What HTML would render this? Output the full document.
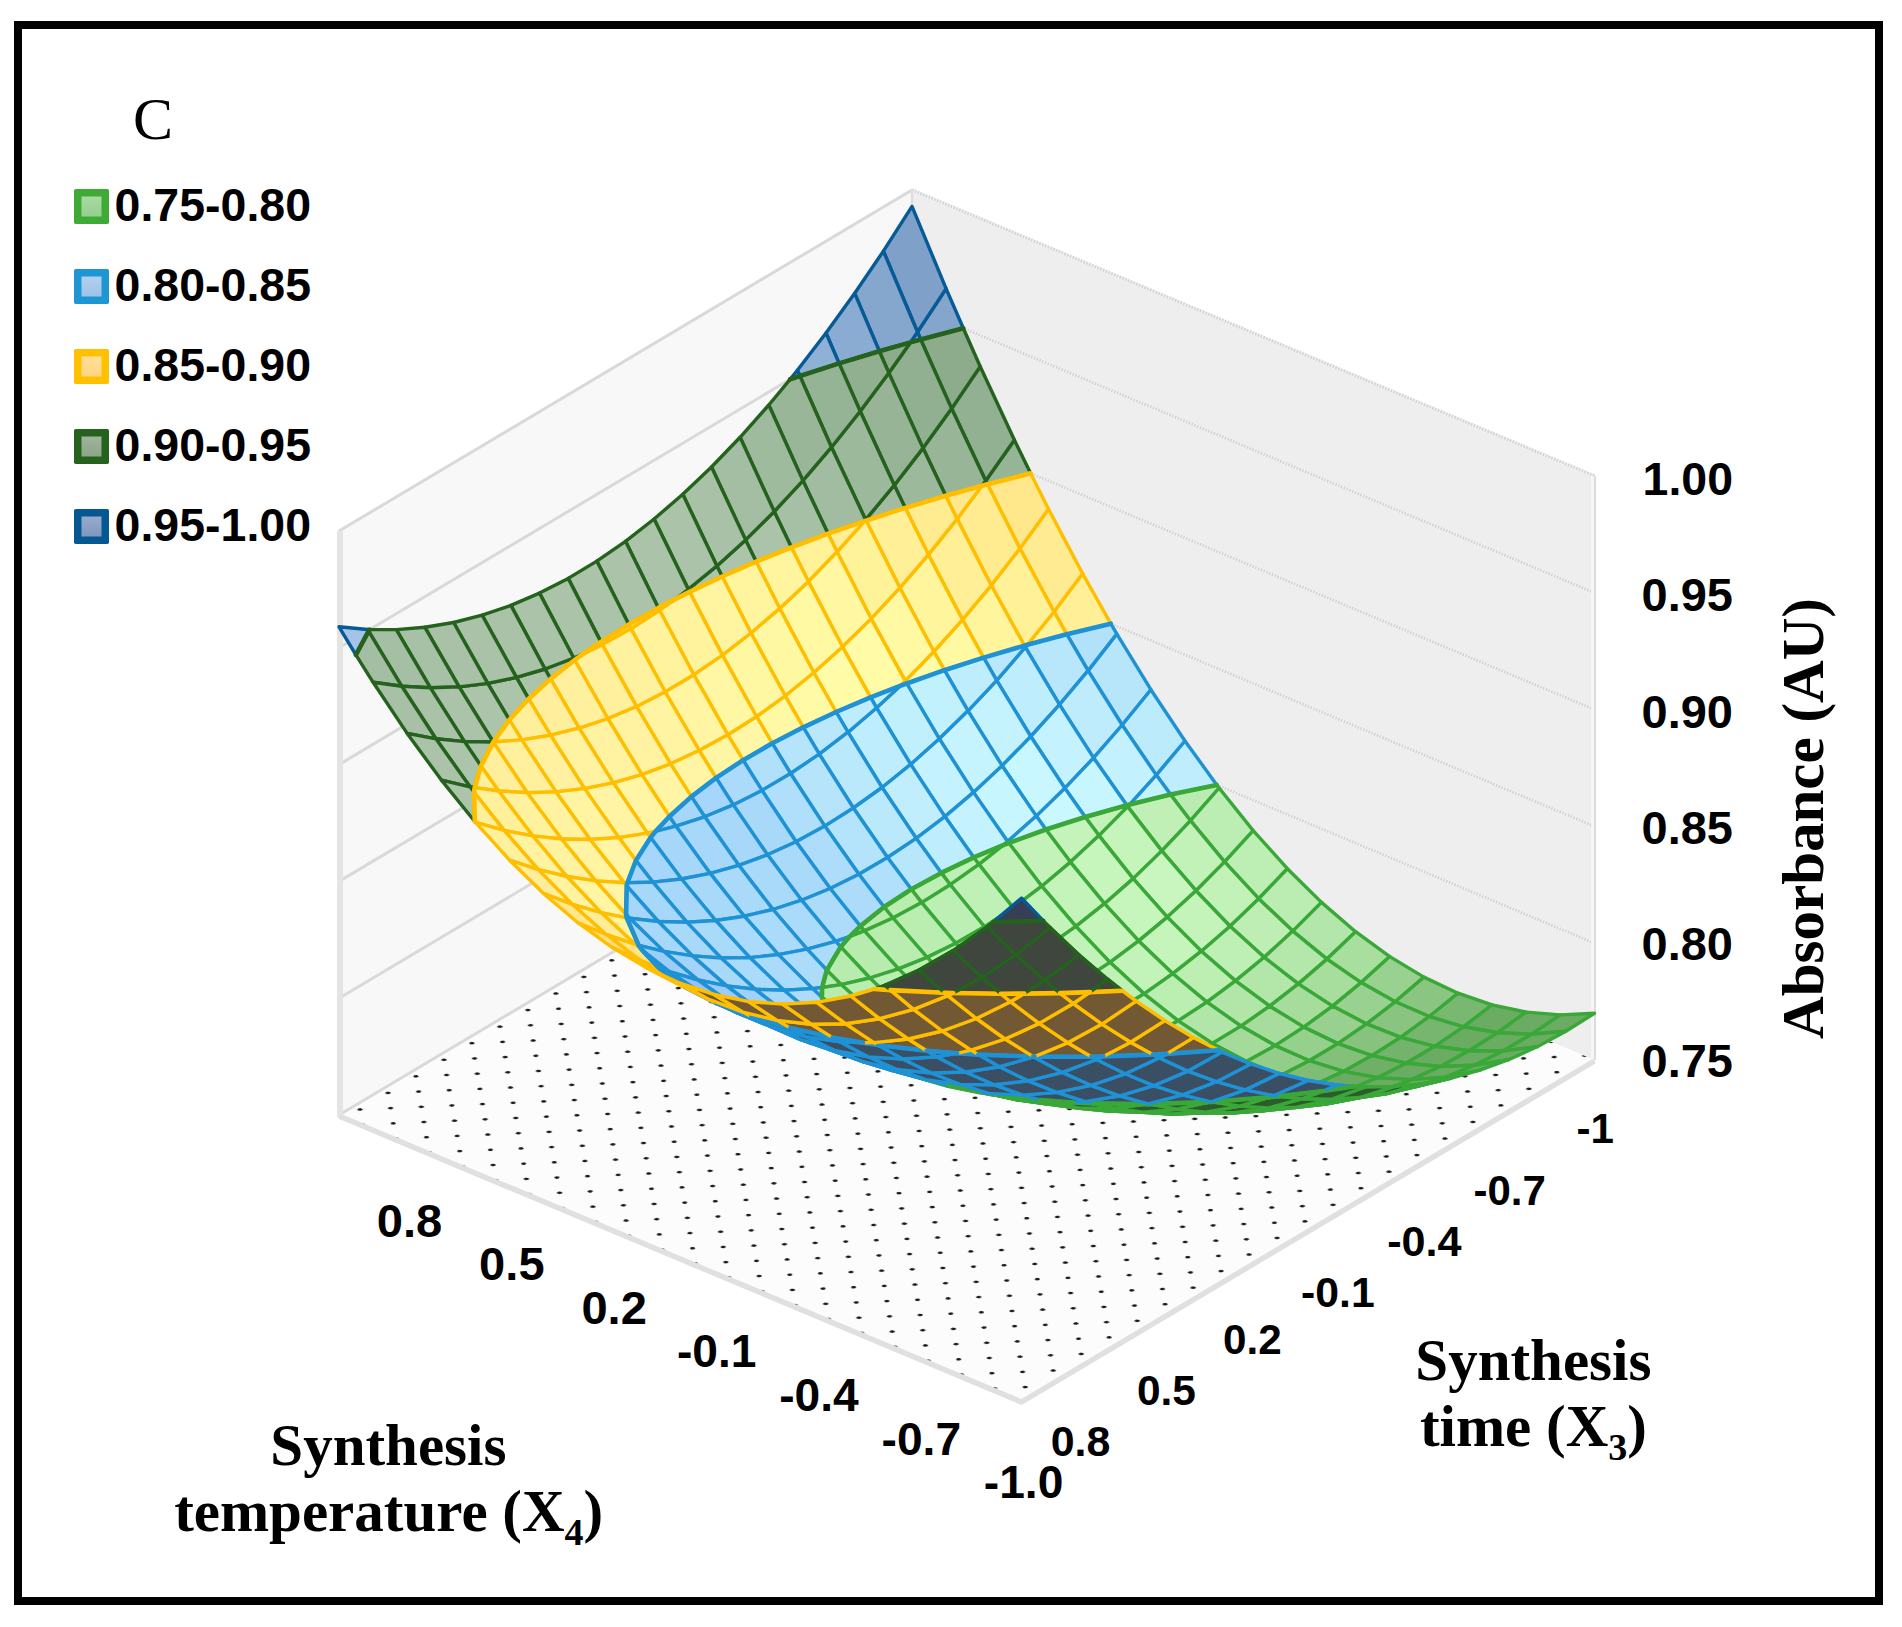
<!DOCTYPE html>
<html lang="en"><head><meta charset="utf-8"><title>Surface plot C</title>
<style>html,body{margin:0;padding:0;background:#fff}body{width:1902px;height:1627px;overflow:hidden}svg{display:block}#surf polygon{stroke-width:3.4;stroke-linejoin:round}#surf .c{stroke-width:4.6;stroke-linecap:round;fill:none}text{fill:#000}</style></head><body>
<svg width="1902" height="1627" viewBox="0 0 1902 1627">
<defs><pattern id="dots" width="1" height="1" patternUnits="userSpaceOnUse" patternTransform="matrix(33.260 13.880 27.980 -16.570 344.69 1110.17)"><circle cx="0.25" cy="0.25" r="0.058" fill="#1a1a1a"/><circle cx="0.75" cy="0.75" r="0.058" fill="#1a1a1a"/></pattern><linearGradient id="lg0" x1="0" y1="0" x2="0" y2="1"><stop offset="0" stop-color="#a8daa2"/><stop offset="1" stop-color="#96ce90"/></linearGradient><linearGradient id="lg1" x1="0" y1="0" x2="0" y2="1"><stop offset="0" stop-color="#b0d0f0"/><stop offset="1" stop-color="#9ec2e8"/></linearGradient><linearGradient id="lg2" x1="0" y1="0" x2="0" y2="1"><stop offset="0" stop-color="#ffe098"/><stop offset="1" stop-color="#ffd480"/></linearGradient><linearGradient id="lg3" x1="0" y1="0" x2="0" y2="1"><stop offset="0" stop-color="#a0b49c"/><stop offset="1" stop-color="#8ca488"/></linearGradient><linearGradient id="lg4" x1="0" y1="0" x2="0" y2="1"><stop offset="0" stop-color="#96aacc"/><stop offset="1" stop-color="#8098be"/></linearGradient></defs>
<rect x="0" y="0" width="1902" height="1627" fill="#fff"/>
<rect x="18" y="25" width="1861" height="1576" fill="none" stroke="#000" stroke-width="8"/>
<g id="walls"><polygon points="912.0,774.0 339.0,1115.0 339.0,531.0 912.0,190.0" fill="#f8f8f8"/>
<polygon points="912.0,774.0 1594.5,1060.0 1594.5,476.0 912.0,190.0" fill="#eeeeee"/>
<polygon points="912.0,774.0 339.0,1115.0 1021.5,1401.0 1594.5,1060.0" fill="#fcfcfc"/>
<polygon points="912.0,774.0 339.0,1115.0 1021.5,1401.0 1594.5,1060.0" fill="url(#dots)"/>
<line x1="339.0" y1="1115.0" x2="912.0" y2="774.0" stroke="#d9d9d9" stroke-width="3"/>
<line x1="339.0" y1="998.2" x2="912.0" y2="657.2" stroke="#d9d9d9" stroke-width="3"/>
<line x1="912.0" y1="657.2" x2="1594.5" y2="943.2" stroke="#f3f3f3" stroke-width="3.6"/>
<line x1="912.0" y1="657.2" x2="1594.5" y2="943.2" stroke="#d2d2d2" stroke-width="3" stroke-dasharray="1.6 1.4"/>
<line x1="339.0" y1="881.4" x2="912.0" y2="540.4" stroke="#d9d9d9" stroke-width="3"/>
<line x1="912.0" y1="540.4" x2="1594.5" y2="826.4" stroke="#f3f3f3" stroke-width="3.6"/>
<line x1="912.0" y1="540.4" x2="1594.5" y2="826.4" stroke="#d2d2d2" stroke-width="3" stroke-dasharray="1.6 1.4"/>
<line x1="339.0" y1="764.6" x2="912.0" y2="423.6" stroke="#d9d9d9" stroke-width="3"/>
<line x1="912.0" y1="423.6" x2="1594.5" y2="709.6" stroke="#f3f3f3" stroke-width="3.6"/>
<line x1="912.0" y1="423.6" x2="1594.5" y2="709.6" stroke="#d2d2d2" stroke-width="3" stroke-dasharray="1.6 1.4"/>
<line x1="339.0" y1="647.8" x2="912.0" y2="306.8" stroke="#d9d9d9" stroke-width="3"/>
<line x1="912.0" y1="306.8" x2="1594.5" y2="592.8" stroke="#f3f3f3" stroke-width="3.6"/>
<line x1="912.0" y1="306.8" x2="1594.5" y2="592.8" stroke="#d2d2d2" stroke-width="3" stroke-dasharray="1.6 1.4"/>
<line x1="339.0" y1="531.0" x2="912.0" y2="190.0" stroke="#d9d9d9" stroke-width="3"/>
<line x1="912.0" y1="190.0" x2="1594.5" y2="476.0" stroke="#f3f3f3" stroke-width="3.6"/>
<line x1="912.0" y1="190.0" x2="1594.5" y2="476.0" stroke="#d2d2d2" stroke-width="3" stroke-dasharray="1.6 1.4"/>
<line x1="340.0" y1="1117.0" x2="340.0" y2="531.0" stroke="#e4e4e4" stroke-width="6"/>
<line x1="912.0" y1="774.0" x2="912.0" y2="190.0" stroke="#dedede" stroke-width="2.5"/>
<line x1="1592.5" y1="1060.0" x2="1592.5" y2="476.0" stroke="#f6f6f6" stroke-width="3"/>
<line x1="1595.0" y1="1060.0" x2="1595.0" y2="476.0" stroke="#dcdcdc" stroke-width="2"/>
<polyline points="339.0,1115.0 1021.5,1401.0 1594.5,1060.0" fill="none" stroke="#e0e0e0" stroke-width="5.5" stroke-linejoin="miter" transform="translate(0,1)"/></g>
<g id="surf"><polygon points="1116.8,633.9 1088.1,670.6 1122.2,725.0 1150.9,689.7" fill="#b7e6fb" stroke="#1e92d4"/>
<polygon points="1082.6,573.6 1054.0,611.7 1066.8,634.3 1110.8,623.7" fill="#ffef96" stroke="#ffbe00"/>
<polygon points="1066.8,634.3 1088.1,670.6 1116.8,633.9 1110.8,623.7" fill="#b2e1fa" stroke="#1e92d4"/>
<polygon points="1150.9,689.7 1122.2,725.0 1156.3,775.1 1185.0,741.0" fill="#bcebfc" stroke="#1e92d4"/>
<polygon points="1048.5,509.0 1019.9,548.4 1054.0,611.7 1082.6,573.6" fill="#ffeb91" stroke="#ffbe00"/>
<polygon points="1185.0,741.0 1156.3,775.1 1170.6,794.6 1216.8,784.9" fill="#bfedfd" stroke="#1e92d4"/>
<polygon points="1170.6,794.6 1190.5,820.7 1219.1,788.0 1216.8,784.9" fill="#baebb1" stroke="#3aa838"/>
<polygon points="1014.4,440.0 985.7,480.7 987.5,484.3 1030.6,473.3" fill="#96b496" stroke="#24621e"/>
<polygon points="987.5,484.3 1019.9,548.4 1048.5,509.0 1030.6,473.3" fill="#ffe78b" stroke="#ffbe00"/>
<polygon points="1219.1,788.0 1190.5,820.7 1224.6,861.9 1253.2,830.6" fill="#bcedb3" stroke="#3aa838"/>
<polygon points="980.2,366.5 951.6,408.6 985.7,480.7 1014.4,440.0" fill="#92b192" stroke="#24621e"/>
<polygon points="1054.0,611.7 1027.3,644.8 1066.8,634.3" fill="#fff39b" stroke="#ffbe00"/>
<polygon points="1027.3,644.8 1025.3,647.2 1059.5,704.7 1088.1,670.6 1066.8,634.3" fill="#b8e6fb" stroke="#1e92d4"/>
<polygon points="1088.1,670.6 1059.5,704.7 1093.6,757.9 1122.2,725.0" fill="#beecfd" stroke="#1e92d4"/>
<polygon points="1019.9,548.4 991.2,585.3 1024.4,645.6 1027.3,644.8 1054.0,611.7" fill="#fff198" stroke="#ffbe00"/>
<polygon points="1024.4,645.6 1025.3,647.2 1027.3,644.8" fill="#b4e3fb" stroke="#1e92d4"/>
<polygon points="1122.2,725.0 1093.6,757.9 1126.8,805.3 1129.6,804.6 1156.3,775.1" fill="#c3f1fe" stroke="#1e92d4"/>
<polygon points="1126.8,805.3 1127.7,806.6 1129.6,804.6" fill="#beeeb4" stroke="#3aa838"/>
<polygon points="985.7,480.7 982.0,485.7 987.5,484.3" fill="#9bb89b" stroke="#24621e"/>
<polygon points="982.0,485.7 957.1,518.9 991.2,585.3 1019.9,548.4 987.5,484.3" fill="#ffeb90" stroke="#ffbe00"/>
<polygon points="1253.2,830.6 1224.6,861.9 1258.7,898.7 1287.4,868.7" fill="#bdeeb4" stroke="#3aa838"/>
<polygon points="946.1,288.6 917.5,332.0 920.7,339.5 963.3,328.3" fill="#84a6cd" stroke="#065a96"/>
<polygon points="920.7,339.5 951.6,408.6 980.2,366.5 963.3,328.3" fill="#8cac8c" stroke="#24621e"/>
<polygon points="1156.3,775.1 1129.6,804.6 1170.6,794.6" fill="#c4f2fe" stroke="#1e92d4"/>
<polygon points="1129.6,804.6 1127.7,806.6 1161.8,850.9 1190.5,820.7 1170.6,794.6" fill="#c0f0b6" stroke="#3aa838"/>
<polygon points="951.6,408.6 923.0,448.1 945.7,495.8 982.0,485.7 985.7,480.7" fill="#98b597" stroke="#24621e"/>
<polygon points="945.7,495.8 957.1,518.9 982.0,485.7" fill="#ffe78b" stroke="#ffbe00"/>
<polygon points="1190.5,820.7 1161.8,850.9 1196.0,890.7 1224.6,861.9" fill="#c3f2b9" stroke="#3aa838"/>
<polygon points="1287.4,868.7 1258.7,898.7 1292.8,931.1 1321.5,902.4" fill="#bbecb2" stroke="#3aa838"/>
<polygon points="912.0,206.4 883.4,251.1 917.5,332.0 946.1,288.6" fill="#7fa1c9" stroke="#065a96"/>
<polygon points="1025.3,647.2 996.7,680.3 1030.8,736.5 1059.5,704.7" fill="#beedfd" stroke="#1e92d4"/>
<polygon points="991.2,585.3 962.5,619.6 983.6,657.6 1024.4,645.6" fill="#fff59d" stroke="#ffbe00"/>
<polygon points="983.6,657.6 996.7,680.3 1025.3,647.2 1024.4,645.6" fill="#b9e7fc" stroke="#1e92d4"/>
<polygon points="1059.5,704.7 1030.8,736.5 1064.9,788.2 1093.6,757.9" fill="#c4f2fe" stroke="#1e92d4"/>
<polygon points="917.5,332.0 910.4,342.4 920.7,339.5" fill="#8aabd2" stroke="#065a96"/>
<polygon points="910.4,342.4 888.8,372.9 923.0,448.1 951.6,408.6 920.7,339.5" fill="#90b091" stroke="#24621e"/>
<polygon points="957.1,518.9 928.4,554.6 962.5,619.6 991.2,585.3" fill="#fff097" stroke="#ffbe00"/>
<polygon points="1093.6,757.9 1064.9,788.2 1085.2,817.0 1126.8,805.3" fill="#c8f6ff" stroke="#1e92d4"/>
<polygon points="1085.2,817.0 1099.0,835.6 1127.7,806.6 1126.8,805.3" fill="#c3f2b9" stroke="#3aa838"/>
<polygon points="1224.6,861.9 1196.0,890.7 1230.1,926.2 1258.7,898.7" fill="#c3f2b9" stroke="#3aa838"/>
<polygon points="923.0,448.1 894.3,485.2 905.3,507.9 945.7,495.8" fill="#9cb99c" stroke="#24621e"/>
<polygon points="905.3,507.9 928.4,554.6 957.1,518.9 945.7,495.8" fill="#ffeb90" stroke="#ffbe00"/>
<polygon points="1127.7,806.6 1099.0,835.6 1133.2,878.6 1161.8,850.9" fill="#c6f5bc" stroke="#3aa838"/>
<polygon points="883.4,251.1 854.7,293.3 879.3,351.2 910.4,342.4 917.5,332.0" fill="#85a7ce" stroke="#065a96"/>
<polygon points="879.3,351.2 888.8,372.9 910.4,342.4" fill="#8cac8c" stroke="#24621e"/>
<polygon points="1321.5,902.4 1292.8,931.1 1327.0,959.1 1355.6,931.7" fill="#b3e6aa" stroke="#3aa838"/>
<polygon points="888.8,372.9 860.2,411.3 894.3,485.2 923.0,448.1" fill="#97b497" stroke="#24621e"/>
<polygon points="1161.8,850.9 1133.2,878.6 1167.3,917.1 1196.0,890.7" fill="#c8f6be" stroke="#3aa838"/>
<polygon points="996.7,680.3 968.0,710.8 1002.1,765.7 1030.8,736.5" fill="#c4f3fe" stroke="#1e92d4"/>
<polygon points="962.5,619.6 933.9,651.5 944.4,670.2 983.6,657.6" fill="#fff9a3" stroke="#ffbe00"/>
<polygon points="944.4,670.2 968.0,710.8 996.7,680.3 983.6,657.6" fill="#beedfd" stroke="#1e92d4"/>
<polygon points="1258.7,898.7 1230.1,926.2 1264.2,957.3 1292.8,931.1" fill="#beeeb4" stroke="#3aa838"/>
<polygon points="1030.8,736.5 1002.1,765.7 1036.3,816.1 1064.9,788.2" fill="#c9f7ff" stroke="#1e92d4"/>
<polygon points="928.4,554.6 899.8,587.8 933.9,651.5 962.5,619.6" fill="#fff59d" stroke="#ffbe00"/>
<polygon points="1064.9,788.2 1036.3,816.1 1045.9,829.5 1085.2,817.0" fill="#caf8ff" stroke="#1e92d4"/>
<polygon points="1045.9,829.5 1070.4,862.1 1099.0,835.6 1085.2,817.0" fill="#c5f4bb" stroke="#3aa838"/>
<polygon points="894.3,485.2 865.6,519.7 866.1,520.6 905.3,507.9" fill="#a1bca0" stroke="#24621e"/>
<polygon points="866.1,520.6 899.8,587.8 928.4,554.6 905.3,507.9" fill="#ffef96" stroke="#ffbe00"/>
<polygon points="854.7,293.3 826.0,333.0 839.1,363.4 879.3,351.2" fill="#8bacd2" stroke="#065a96"/>
<polygon points="839.1,363.4 860.2,411.3 888.8,372.9 879.3,351.2" fill="#90b090" stroke="#24621e"/>
<polygon points="1355.6,931.7 1327.0,959.1 1361.1,982.6 1389.8,956.6" fill="#a8de9e" stroke="#3aa838"/>
<polygon points="1196.0,890.7 1167.3,917.1 1201.4,951.2 1230.1,926.2" fill="#c5f4bb" stroke="#3aa838"/>
<polygon points="1099.0,835.6 1070.4,862.1 1104.5,903.7 1133.2,878.6" fill="#c7f6bd" stroke="#3aa838"/>
<polygon points="860.2,411.3 831.5,447.2 865.6,519.7 894.3,485.2" fill="#9cb99c" stroke="#24621e"/>
<polygon points="1292.8,931.1 1264.2,957.3 1298.3,983.9 1327.0,959.1" fill="#b4e7aa" stroke="#3aa838"/>
<polygon points="933.9,651.5 905.2,680.9 906.7,683.5 944.4,670.2" fill="#fffca7" stroke="#ffbe00"/>
<polygon points="906.7,683.5 939.4,738.8 968.0,710.8 944.4,670.2" fill="#c2f1fe" stroke="#1e92d4"/>
<polygon points="968.0,710.8 939.4,738.8 973.5,792.4 1002.1,765.7" fill="#c6f4fe" stroke="#1e92d4"/>
<polygon points="899.8,587.8 871.1,618.6 905.2,680.9 933.9,651.5" fill="#fff9a3" stroke="#ffbe00"/>
<polygon points="1133.2,878.6 1104.5,903.7 1138.7,940.9 1167.3,917.1" fill="#c7f6bd" stroke="#3aa838"/>
<polygon points="1230.1,926.2 1201.4,951.2 1235.5,980.9 1264.2,957.3" fill="#beefb4" stroke="#3aa838"/>
<polygon points="1002.1,765.7 973.5,792.4 1007.6,841.5 1036.3,816.1" fill="#c8f6ff" stroke="#1e92d4"/>
<polygon points="826.0,333.0 797.4,370.3 799.9,376.0 839.1,363.4" fill="#90b1d6" stroke="#065a96"/>
<polygon points="799.9,376.0 831.5,447.2 860.2,411.3 839.1,363.4" fill="#95b395" stroke="#24621e"/>
<polygon points="865.6,519.7 864.5,521.1 866.1,520.6" fill="#a6c0a4" stroke="#24621e"/>
<polygon points="864.5,521.1 837.0,551.8 871.1,618.6 899.8,587.8 866.1,520.6" fill="#fff39a" stroke="#ffbe00"/>
<polygon points="1389.8,956.6 1361.1,982.6 1395.2,1001.8 1423.9,977.1" fill="#99d290" stroke="#3aa838"/>
<polygon points="1036.3,816.1 1007.6,841.5 1008.8,843.0 1045.9,829.5" fill="#c6f4fe" stroke="#1e92d4"/>
<polygon points="1008.8,843.0 1041.8,886.2 1070.4,862.1 1045.9,829.5" fill="#c4f3ba" stroke="#3aa838"/>
<polygon points="1327.0,959.1 1298.3,983.9 1332.5,1006.1 1361.1,982.6" fill="#a7dd9d" stroke="#3aa838"/>
<polygon points="831.5,447.2 802.9,480.6 828.1,533.7 864.5,521.1 865.6,519.7" fill="#a2bca1" stroke="#24621e"/>
<polygon points="828.1,533.7 837.0,551.8 864.5,521.1" fill="#ffee95" stroke="#ffbe00"/>
<polygon points="1167.3,917.1 1138.7,940.9 1172.8,973.7 1201.4,951.2" fill="#c6f5bc" stroke="#3aa838"/>
<polygon points="1070.4,862.1 1041.8,886.2 1075.9,926.4 1104.5,903.7" fill="#c5f4bb" stroke="#3aa838"/>
<polygon points="1264.2,957.3 1235.5,980.9 1269.7,1006.2 1298.3,983.9" fill="#b3e7a9" stroke="#3aa838"/>
<polygon points="797.4,370.3 790.1,379.3 799.9,376.0" fill="#95b5da" stroke="#065a96"/>
<polygon points="790.1,379.3 768.8,405.0 802.9,480.6 831.5,447.2 799.9,376.0" fill="#99b699" stroke="#24621e"/>
<polygon points="905.2,680.9 900.1,685.9 906.7,683.5" fill="#fffca7" stroke="#ffbe00"/>
<polygon points="900.1,685.9 876.6,707.8 910.7,764.4 939.4,738.8 906.7,683.5" fill="#c1f0fd" stroke="#1e92d4"/>
<polygon points="871.1,618.6 842.5,646.8 870.6,697.4 900.1,685.9 905.2,680.9" fill="#fffba6" stroke="#ffbe00"/>
<polygon points="870.6,697.4 876.6,707.8 900.1,685.9" fill="#c0effd" stroke="#1e92d4"/>
<polygon points="939.4,738.8 910.7,764.4 944.9,816.6 973.5,792.4" fill="#c4f2fe" stroke="#1e92d4"/>
<polygon points="1104.5,903.7 1075.9,926.4 1110.0,962.3 1138.7,940.9" fill="#c5f5bb" stroke="#3aa838"/>
<polygon points="837.0,551.8 808.4,581.4 842.5,646.8 871.1,618.6" fill="#fff7a1" stroke="#ffbe00"/>
<polygon points="973.5,792.4 944.9,816.6 973.8,857.4 1003.2,845.2 1007.6,841.5" fill="#c4f2fe" stroke="#1e92d4"/>
<polygon points="973.8,857.4 979.0,864.4 1003.2,845.2" fill="#c2f2b8" stroke="#3aa838"/>
<polygon points="1201.4,951.2 1172.8,973.7 1206.9,1002.1 1235.5,980.9" fill="#bdefb3" stroke="#3aa838"/>
<polygon points="1423.9,977.1 1395.2,1001.8 1429.3,1016.5 1458.0,993.2" fill="#8ac681" stroke="#3aa838"/>
<polygon points="1361.1,982.6 1332.5,1006.1 1366.6,1023.9 1395.2,1001.8" fill="#99d290" stroke="#3aa838"/>
<polygon points="802.9,480.6 774.2,511.5 791.5,547.4 828.1,533.7" fill="#a6c0a5" stroke="#24621e"/>
<polygon points="791.5,547.4 808.4,581.4 837.0,551.8 828.1,533.7" fill="#fff299" stroke="#ffbe00"/>
<polygon points="1007.6,841.5 1003.2,845.2 1008.8,843.0" fill="#c0effd" stroke="#1e92d4"/>
<polygon points="1003.2,845.2 979.0,864.4 1013.1,907.7 1041.8,886.2 1008.8,843.0" fill="#c2f2b8" stroke="#3aa838"/>
<polygon points="1298.3,983.9 1269.7,1006.2 1303.8,1027.1 1332.5,1006.1" fill="#a6dd9d" stroke="#3aa838"/>
<polygon points="1138.7,940.9 1110.0,962.3 1144.1,993.8 1172.8,973.7" fill="#c2f3b9" stroke="#3aa838"/>
<polygon points="768.8,405.0 740.1,437.3 774.2,511.5 802.9,480.6" fill="#9fbb9e" stroke="#24621e"/>
<polygon points="1041.8,886.2 1013.1,907.7 1047.2,946.6 1075.9,926.4" fill="#c2f3b9" stroke="#3aa838"/>
<polygon points="1235.5,980.9 1206.9,1002.1 1241.0,1026.1 1269.7,1006.2" fill="#b2e6a8" stroke="#3aa838"/>
<polygon points="876.6,707.8 848.0,732.2 882.1,787.5 910.7,764.4" fill="#beedfd" stroke="#1e92d4"/>
<polygon points="842.5,646.8 813.8,672.5 836.1,712.0 870.6,697.4" fill="#fffba6" stroke="#ffbe00"/>
<polygon points="836.1,712.0 848.0,732.2 876.6,707.8 870.6,697.4" fill="#bdecfd" stroke="#1e92d4"/>
<polygon points="910.7,764.4 882.1,787.5 916.2,838.3 944.9,816.6" fill="#c0eefd" stroke="#1e92d4"/>
<polygon points="808.4,581.4 779.7,608.4 813.8,672.5 842.5,646.8" fill="#fff9a3" stroke="#ffbe00"/>
<polygon points="944.9,816.6 916.2,838.3 941.3,872.9 973.8,857.4" fill="#beedfd" stroke="#1e92d4"/>
<polygon points="941.3,872.9 950.3,884.7 979.0,864.4 973.8,857.4" fill="#bff0b6" stroke="#3aa838"/>
<polygon points="1075.9,926.4 1047.2,946.6 1081.3,981.2 1110.0,962.3" fill="#c1f2b7" stroke="#3aa838"/>
<polygon points="1172.8,973.7 1144.1,993.8 1178.2,1020.8 1206.9,1002.1" fill="#bbeeb1" stroke="#3aa838"/>
<polygon points="1458.0,993.2 1429.3,1016.5 1463.5,1026.8 1492.1,1004.8" fill="#79b870" stroke="#3aa838"/>
<polygon points="774.2,511.5 745.6,539.9 756.2,561.7 791.5,547.4" fill="#abc3a9" stroke="#24621e"/>
<polygon points="756.2,561.7 779.7,608.4 808.4,581.4 791.5,547.4" fill="#fff59e" stroke="#ffbe00"/>
<polygon points="1395.2,1001.8 1366.6,1023.9 1400.7,1037.3 1429.3,1016.5" fill="#89c580" stroke="#3aa838"/>
<polygon points="1332.5,1006.1 1303.8,1027.1 1337.9,1043.6 1366.6,1023.9" fill="#98d18f" stroke="#3aa838"/>
<polygon points="979.0,864.4 950.3,884.7 984.5,926.8 1013.1,907.7" fill="#bff1b6" stroke="#3aa838"/>
<polygon points="740.1,437.3 711.5,467.0 745.6,539.9 774.2,511.5" fill="#a4bea3" stroke="#24621e"/>
<polygon points="1269.7,1006.2 1241.0,1026.1 1275.1,1045.6 1303.8,1027.1" fill="#a6dc9c" stroke="#3aa838"/>
<polygon points="1110.0,962.3 1081.3,981.2 1115.5,1011.3 1144.1,993.8" fill="#bff1b5" stroke="#3aa838"/>
<polygon points="1013.1,907.7 984.5,926.8 1018.6,964.4 1047.2,946.6" fill="#bff1b5" stroke="#3aa838"/>
<polygon points="813.8,672.5 785.2,695.8 803.3,727.3 836.1,712.0" fill="#fffaa6" stroke="#ffbe00"/>
<polygon points="803.3,727.3 819.3,754.1 848.0,732.2 836.1,712.0" fill="#b9e8fc" stroke="#1e92d4"/>
<polygon points="848.0,732.2 819.3,754.1 853.4,808.0 882.1,787.5" fill="#bae9fc" stroke="#1e92d4"/>
<polygon points="1206.9,1002.1 1178.2,1020.8 1212.4,1043.4 1241.0,1026.1" fill="#b1e6a8" stroke="#3aa838"/>
<polygon points="779.7,608.4 751.0,633.0 785.2,695.8 813.8,672.5" fill="#fff8a3" stroke="#ffbe00"/>
<polygon points="882.1,787.5 853.4,808.0 887.5,857.5 916.2,838.3" fill="#bae9fc" stroke="#1e92d4"/>
<polygon points="745.6,539.9 716.9,565.9 722.2,576.5 756.2,561.7" fill="#acc4aa" stroke="#24621e"/>
<polygon points="722.2,576.5 751.0,633.0 779.7,608.4 756.2,561.7" fill="#fff59f" stroke="#ffbe00"/>
<polygon points="916.2,838.3 887.5,857.5 911.3,889.3 941.3,872.9" fill="#b8e7fc" stroke="#1e92d4"/>
<polygon points="911.3,889.3 921.7,902.6 950.3,884.7 941.3,872.9" fill="#bdefb3" stroke="#3aa838"/>
<polygon points="1047.2,946.6 1018.6,964.4 1052.7,997.5 1081.3,981.2" fill="#bef0b4" stroke="#3aa838"/>
<polygon points="1429.3,1016.5 1400.7,1037.3 1434.8,1046.3 1463.5,1026.8" fill="#76b66e" stroke="#3aa838"/>
<polygon points="1492.1,1004.8 1463.5,1026.8 1497.6,1032.7 1526.2,1012.1" fill="#6aac62" stroke="#3aa838"/>
<polygon points="1366.6,1023.9 1337.9,1043.6 1372.0,1055.6 1400.7,1037.3" fill="#87c37e" stroke="#3aa838"/>
<polygon points="1144.1,993.8 1115.5,1011.3 1149.6,1037.0 1178.2,1020.8" fill="#bbeeb1" stroke="#3aa838"/>
<polygon points="711.5,467.0 682.8,494.3 716.9,565.9 745.6,539.9" fill="#a9c2a7" stroke="#24621e"/>
<polygon points="1303.8,1027.1 1275.1,1045.6 1309.3,1060.7 1337.9,1043.6" fill="#96d08d" stroke="#3aa838"/>
<polygon points="950.3,884.7 921.7,902.6 955.8,943.3 984.5,926.8" fill="#bcefb3" stroke="#3aa838"/>
<polygon points="1241.0,1026.1 1212.4,1043.4 1246.5,1061.6 1275.1,1045.6" fill="#a4db9a" stroke="#3aa838"/>
<polygon points="1081.3,981.2 1052.7,997.5 1086.8,1026.3 1115.5,1011.3" fill="#bff1b5" stroke="#3aa838"/>
<polygon points="984.5,926.8 955.8,943.3 989.9,979.6 1018.6,964.4" fill="#bcefb2" stroke="#3aa838"/>
<polygon points="785.2,695.8 756.5,716.5 772.3,743.3 803.3,727.3" fill="#fff9a5" stroke="#ffbe00"/>
<polygon points="772.3,743.3 790.6,773.5 819.3,754.1 803.3,727.3" fill="#b5e4fb" stroke="#1e92d4"/>
<polygon points="819.3,754.1 790.6,773.5 824.8,826.1 853.4,808.0" fill="#b5e4fb" stroke="#1e92d4"/>
<polygon points="751.0,633.0 722.4,655.1 756.5,716.5 785.2,695.8" fill="#fff8a3" stroke="#ffbe00"/>
<polygon points="1178.2,1020.8 1149.6,1037.0 1183.7,1058.2 1212.4,1043.4" fill="#b0e5a6" stroke="#3aa838"/>
<polygon points="853.4,808.0 824.8,826.1 858.9,874.3 887.5,857.5" fill="#b4e4fb" stroke="#1e92d4"/>
<polygon points="716.9,565.9 688.3,589.3 689.6,591.9 722.2,576.5" fill="#acc4aa" stroke="#24621e"/>
<polygon points="689.6,591.9 722.4,655.1 751.0,633.0 722.2,576.5" fill="#fff49f" stroke="#ffbe00"/>
<polygon points="887.5,857.5 858.9,874.3 884.1,907.0 911.3,889.3" fill="#b0e0fb" stroke="#1e92d4"/>
<polygon points="884.1,907.0 893.0,918.0 921.7,902.6 911.3,889.3" fill="#baedb0" stroke="#3aa838"/>
<polygon points="1400.7,1037.3 1372.0,1055.6 1406.2,1063.2 1434.8,1046.3" fill="#73b36b" stroke="#3aa838"/>
<polygon points="1463.5,1026.8 1434.8,1046.3 1469.0,1050.8 1497.6,1032.7" fill="#6aac62" stroke="#3aa838"/>
<polygon points="682.8,494.3 654.1,519.0 688.3,589.3 716.9,565.9" fill="#aac3a9" stroke="#24621e"/>
<polygon points="1018.6,964.4 989.9,979.6 1024.0,1011.4 1052.7,997.5" fill="#bef0b4" stroke="#3aa838"/>
<polygon points="1337.9,1043.6 1309.3,1060.7 1343.4,1071.4 1372.0,1055.6" fill="#83c17b" stroke="#3aa838"/>
<polygon points="1526.2,1012.1 1497.6,1032.7 1531.7,1034.2 1560.4,1014.9" fill="#6aac62" stroke="#3aa838"/>
<polygon points="1115.5,1011.3 1086.8,1026.3 1121.0,1050.7 1149.6,1037.0" fill="#b9edb0" stroke="#3aa838"/>
<polygon points="1275.1,1045.6 1246.5,1061.6 1280.6,1075.4 1309.3,1060.7" fill="#93cd8a" stroke="#3aa838"/>
<polygon points="921.7,902.6 893.0,918.0 927.1,957.4 955.8,943.3" fill="#baedb0" stroke="#3aa838"/>
<polygon points="1212.4,1043.4 1183.7,1058.2 1217.8,1075.1 1246.5,1061.6" fill="#a1d998" stroke="#3aa838"/>
<polygon points="1052.7,997.5 1024.0,1011.4 1058.2,1038.8 1086.8,1026.3" fill="#bff1b5" stroke="#3aa838"/>
<polygon points="756.5,716.5 727.9,734.8 743.1,760.2 772.3,743.3" fill="#fff7a5" stroke="#ffbe00"/>
<polygon points="743.1,760.2 762.0,790.4 790.6,773.5 772.3,743.3" fill="#b0e0fa" stroke="#1e92d4"/>
<polygon points="722.4,655.1 693.8,674.7 727.9,734.8 756.5,716.5" fill="#fff7a3" stroke="#ffbe00"/>
<polygon points="790.6,773.5 762.0,790.4 796.1,841.7 824.8,826.1" fill="#afdffa" stroke="#1e92d4"/>
<polygon points="955.8,943.3 927.1,957.4 961.3,992.3 989.9,979.6" fill="#bcefb2" stroke="#3aa838"/>
<polygon points="688.3,589.3 675.3,599.1 689.6,591.9" fill="#acc4aa" stroke="#24621e"/>
<polygon points="675.3,599.1 659.6,610.2 693.8,674.7 722.4,655.1 689.6,591.9" fill="#fff39e" stroke="#ffbe00"/>
<polygon points="1149.6,1037.0 1121.0,1050.7 1155.1,1070.6 1183.7,1058.2" fill="#ade3a3" stroke="#3aa838"/>
<polygon points="824.8,826.1 796.1,841.7 830.2,888.5 858.9,874.3" fill="#adddfa" stroke="#1e92d4"/>
<polygon points="654.1,519.0 625.5,541.3 658.4,607.9 675.3,599.1 688.3,589.3" fill="#abc3a9" stroke="#24621e"/>
<polygon points="658.4,607.9 659.6,610.2 675.3,599.1" fill="#fff29c" stroke="#ffbe00"/>
<polygon points="1434.8,1046.3 1406.2,1063.2 1440.3,1066.5 1469.0,1050.8" fill="#6aac62" stroke="#3aa838"/>
<polygon points="1372.0,1055.6 1343.4,1071.4 1377.5,1077.7 1406.2,1063.2" fill="#6fb066" stroke="#3aa838"/>
<polygon points="858.9,874.3 830.2,888.5 860.3,926.1 884.1,907.0" fill="#acdcfa" stroke="#1e92d4"/>
<polygon points="860.3,926.1 864.4,930.9 893.0,918.0 884.1,907.0" fill="#b8ebae" stroke="#3aa838"/>
<polygon points="1497.6,1032.7 1469.0,1050.8 1503.1,1051.0 1531.7,1034.2" fill="#6aac62" stroke="#3aa838"/>
<polygon points="1309.3,1060.7 1280.6,1075.4 1314.8,1084.8 1343.4,1071.4" fill="#7fbd77" stroke="#3aa838"/>
<polygon points="989.9,979.6 961.3,992.3 995.4,1022.8 1024.0,1011.4" fill="#bdf0b3" stroke="#3aa838"/>
<polygon points="1086.8,1026.3 1058.2,1038.8 1092.3,1061.9 1121.0,1050.7" fill="#b7ebad" stroke="#3aa838"/>
<polygon points="1560.4,1014.9 1531.7,1034.2 1565.8,1031.2 1594.5,1013.3" fill="#6aac62" stroke="#3aa838"/>
<polygon points="1246.5,1061.6 1217.8,1075.1 1252.0,1087.6 1280.6,1075.4" fill="#8fca86" stroke="#3aa838"/>
<polygon points="893.0,918.0 864.4,930.9 898.5,968.9 927.1,957.4" fill="#b9edaf" stroke="#3aa838"/>
<polygon points="1183.7,1058.2 1155.1,1070.6 1189.2,1086.1 1217.8,1075.1" fill="#9dd594" stroke="#3aa838"/>
<polygon points="693.8,674.7 665.1,691.8 699.2,750.5 727.9,734.8" fill="#fff5a3" stroke="#ffbe00"/>
<polygon points="727.9,734.8 699.2,750.5 716.1,777.9 743.1,760.2" fill="#fff6a4" stroke="#ffbe00"/>
<polygon points="716.1,777.9 733.3,804.9 762.0,790.4 743.1,760.2" fill="#abdafa" stroke="#1e92d4"/>
<polygon points="1024.0,1011.4 995.4,1022.8 1029.5,1048.9 1058.2,1038.8" fill="#bef1b4" stroke="#3aa838"/>
<polygon points="659.6,610.2 631.0,628.6 665.1,691.8 693.8,674.7" fill="#fff39e" stroke="#ffbe00"/>
<polygon points="762.0,790.4 733.3,804.9 767.5,854.8 796.1,841.7" fill="#a9d9f9" stroke="#1e92d4"/>
<polygon points="927.1,957.4 898.5,968.9 932.6,1002.5 961.3,992.3" fill="#bbeeb1" stroke="#3aa838"/>
<polygon points="625.5,541.3 596.8,561.1 628.8,624.6 658.4,607.9" fill="#abc3a9" stroke="#24621e"/>
<polygon points="628.8,624.6 631.0,628.6 659.6,610.2 658.4,607.9" fill="#fff19c" stroke="#ffbe00"/>
<polygon points="796.1,841.7 767.5,854.8 801.6,900.2 830.2,888.5" fill="#aadafa" stroke="#1e92d4"/>
<polygon points="1121.0,1050.7 1092.3,1061.9 1126.4,1080.5 1155.1,1070.6" fill="#a9df9f" stroke="#3aa838"/>
<polygon points="1406.2,1063.2 1377.5,1077.7 1411.7,1079.6 1440.3,1066.5" fill="#6aac62" stroke="#3aa838"/>
<polygon points="1343.4,1071.4 1314.8,1084.8 1348.9,1089.7 1377.5,1077.7" fill="#6aac62" stroke="#3aa838"/>
<polygon points="1469.0,1050.8 1440.3,1066.5 1474.4,1065.3 1503.1,1051.0" fill="#6aac62" stroke="#3aa838"/>
<polygon points="830.2,888.5 801.6,900.2 835.7,941.3 849.6,936.6 860.3,926.1" fill="#acdcfa" stroke="#1e92d4"/>
<polygon points="849.6,936.6 864.4,930.9 860.3,926.1" fill="#b8ebae" stroke="#3aa838"/>
<polygon points="1280.6,1075.4 1252.0,1087.6 1286.1,1095.6 1314.8,1084.8" fill="#7ab972" stroke="#3aa838"/>
<polygon points="1531.7,1034.2 1503.1,1051.0 1537.2,1046.7 1565.8,1031.2" fill="#6aac62" stroke="#3aa838"/>
<polygon points="961.3,992.3 932.6,1002.5 966.8,1031.7 995.4,1022.8" fill="#bdefb3" stroke="#3aa838"/>
<polygon points="1058.2,1038.8 1029.5,1048.9 1063.7,1070.6 1092.3,1061.9" fill="#b3e7a9" stroke="#3aa838"/>
<polygon points="1217.8,1075.1 1189.2,1086.1 1223.3,1097.2 1252.0,1087.6" fill="#8ac681" stroke="#3aa838"/>
<polygon points="849.6,936.6 835.7,941.3 840.7,946.9" fill="#acdcfa" stroke="#1e92d4"/>
<polygon points="864.4,930.9 849.6,936.6 840.7,946.9 869.8,978.0 898.5,968.9" fill="#b8ecaf" stroke="#3aa838"/>
<polygon points="665.1,691.8 636.5,706.4 670.6,763.8 699.2,750.5" fill="#fff4a2" stroke="#ffbe00"/>
<polygon points="699.2,750.5 670.6,763.8 691.4,796.6 716.1,777.9" fill="#fff5a4" stroke="#ffbe00"/>
<polygon points="691.4,796.6 704.7,816.8 733.3,804.9 716.1,777.9" fill="#a6d6f9" stroke="#1e92d4"/>
<polygon points="1155.1,1070.6 1126.4,1080.5 1160.5,1094.6 1189.2,1086.1" fill="#98d18f" stroke="#3aa838"/>
<polygon points="631.0,628.6 602.3,644.6 636.5,706.4 665.1,691.8" fill="#fff29e" stroke="#ffbe00"/>
<polygon points="733.3,804.9 704.7,816.8 738.8,865.3 767.5,854.8" fill="#a8d8f9" stroke="#1e92d4"/>
<polygon points="995.4,1022.8 966.8,1031.7 1000.9,1056.4 1029.5,1048.9" fill="#baeeb1" stroke="#3aa838"/>
<polygon points="596.8,561.1 568.2,578.4 600.9,641.9 628.8,624.6" fill="#abc3a9" stroke="#24621e"/>
<polygon points="600.9,641.9 602.3,644.6 631.0,628.6 628.8,624.6" fill="#fff09b" stroke="#ffbe00"/>
<polygon points="898.5,968.9 869.8,978.0 904.0,1010.2 932.6,1002.5" fill="#bbeeb1" stroke="#3aa838"/>
<polygon points="767.5,854.8 738.8,865.3 773.0,909.5 801.6,900.2" fill="#aadafa" stroke="#1e92d4"/>
<polygon points="1092.3,1061.9 1063.7,1070.6 1097.8,1087.8 1126.4,1080.5" fill="#a4db9a" stroke="#3aa838"/>
<polygon points="1377.5,1077.7 1348.9,1089.7 1383.0,1090.3 1411.7,1079.6" fill="#6aac62" stroke="#3aa838"/>
<polygon points="1440.3,1066.5 1411.7,1079.6 1445.8,1077.1 1474.4,1065.3" fill="#6aac62" stroke="#3aa838"/>
<polygon points="1314.8,1084.8 1286.1,1095.6 1320.2,1099.2 1348.9,1089.7" fill="#6aac62" stroke="#3aa838"/>
<polygon points="1503.1,1051.0 1474.4,1065.3 1508.5,1059.7 1537.2,1046.7" fill="#6aac62" stroke="#3aa838"/>
<polygon points="801.6,900.2 773.0,909.5 807.1,949.2 835.7,941.3" fill="#abdbfa" stroke="#1e92d4"/>
<polygon points="1252.0,1087.6 1223.3,1097.2 1257.5,1103.9 1286.1,1095.6" fill="#74b46c" stroke="#3aa838"/>
<polygon points="932.6,1002.5 904.0,1010.2 938.1,1038.1 966.8,1031.7" fill="#bcefb2" stroke="#3aa838"/>
<polygon points="1029.5,1048.9 1000.9,1056.4 1035.0,1076.8 1063.7,1070.6" fill="#aee3a4" stroke="#3aa838"/>
<polygon points="1189.2,1086.1 1160.5,1094.6 1194.7,1104.4 1223.3,1097.2" fill="#84c17b" stroke="#3aa838"/>
<polygon points="835.7,941.3 807.1,949.2 826.8,970.2 840.7,946.9" fill="#acdcfa" stroke="#1e92d4"/>
<polygon points="826.8,970.2 841.2,984.6 869.8,978.0 840.7,946.9" fill="#b8ecae" stroke="#3aa838"/>
<polygon points="636.5,706.4 607.8,718.5 641.9,774.6 670.6,763.8" fill="#fff3a1" stroke="#ffbe00"/>
<polygon points="583.5,653.7 573.7,658.0 574.7,660.0" fill="#acc4aa" stroke="#24621e"/>
<polygon points="602.3,644.6 583.5,653.7 574.7,660.0 607.8,718.5 636.5,706.4" fill="#fff09d" stroke="#ffbe00"/>
<polygon points="670.6,763.8 641.9,774.6 669.4,816.5 691.4,796.6" fill="#fff5a4" stroke="#ffbe00"/>
<polygon points="669.4,816.5 676.0,826.2 704.7,816.8 691.4,796.6" fill="#a6d6f9" stroke="#1e92d4"/>
<polygon points="1126.4,1080.5 1097.8,1087.8 1131.9,1100.7 1160.5,1094.6" fill="#91cc89" stroke="#3aa838"/>
<polygon points="568.2,578.4 539.5,593.1 573.7,658.0 583.5,653.7 600.9,641.9" fill="#abc3a9" stroke="#24621e"/>
<polygon points="583.5,653.7 602.3,644.6 600.9,641.9" fill="#ffef9b" stroke="#ffbe00"/>
<polygon points="704.7,816.8 676.0,826.2 710.2,873.4 738.8,865.3" fill="#a7d8f9" stroke="#1e92d4"/>
<polygon points="966.8,1031.7 938.1,1038.1 972.2,1061.5 1000.9,1056.4" fill="#b5e9ac" stroke="#3aa838"/>
<polygon points="869.8,978.0 841.2,984.6 875.3,1015.5 904.0,1010.2" fill="#baedb0" stroke="#3aa838"/>
<polygon points="738.8,865.3 710.2,873.4 744.3,916.2 773.0,909.5" fill="#aadafa" stroke="#1e92d4"/>
<polygon points="1063.7,1070.6 1035.0,1076.8 1069.1,1092.7 1097.8,1087.8" fill="#9ed694" stroke="#3aa838"/>
<polygon points="1348.9,1089.7 1320.2,1099.2 1354.3,1098.4 1383.0,1090.3" fill="#6aac62" stroke="#3aa838"/>
<polygon points="1411.7,1079.6 1383.0,1090.3 1417.1,1086.4 1445.8,1077.1" fill="#6aac62" stroke="#3aa838"/>
<polygon points="1286.1,1095.6 1257.5,1103.9 1291.6,1106.2 1320.2,1099.2" fill="#6aac62" stroke="#3aa838"/>
<polygon points="1474.4,1065.3 1445.8,1077.1 1479.9,1070.1 1508.5,1059.7" fill="#6aac62" stroke="#3aa838"/>
<polygon points="773.0,909.5 744.3,916.2 778.4,954.6 807.1,949.2" fill="#abdbfa" stroke="#1e92d4"/>
<polygon points="1223.3,1097.2 1194.7,1104.4 1228.8,1109.8 1257.5,1103.9" fill="#6eaf66" stroke="#3aa838"/>
<polygon points="904.0,1010.2 875.3,1015.5 909.5,1042.0 938.1,1038.1" fill="#baedb1" stroke="#3aa838"/>
<polygon points="1000.9,1056.4 972.2,1061.5 1006.3,1080.5 1035.0,1076.8" fill="#a8de9e" stroke="#3aa838"/>
<polygon points="1160.5,1094.6 1131.9,1100.7 1166.0,1109.1 1194.7,1104.4" fill="#7dbb74" stroke="#3aa838"/>
<polygon points="807.1,949.2 778.4,954.6 812.5,988.6 822.1,987.5 826.8,970.2" fill="#acdcfa" stroke="#1e92d4"/>
<polygon points="822.1,987.5 841.2,984.6 826.8,970.2" fill="#b8ebae" stroke="#3aa838"/>
<polygon points="607.8,718.5 579.1,728.1 613.3,782.8 641.9,774.6" fill="#fff3a1" stroke="#ffbe00"/>
<polygon points="573.7,658.0 545.0,669.0 550.6,678.9 574.7,660.0" fill="#acc4aa" stroke="#24621e"/>
<polygon points="550.6,678.9 579.1,728.1 607.8,718.5 574.7,660.0" fill="#fff09d" stroke="#ffbe00"/>
<polygon points="641.9,774.6 613.3,782.8 647.4,833.1 655.6,831.4 669.4,816.5" fill="#fff5a4" stroke="#ffbe00"/>
<polygon points="655.6,831.4 676.0,826.2 669.4,816.5" fill="#a5d6f9" stroke="#1e92d4"/>
<polygon points="539.5,593.1 510.9,605.4 545.0,669.0 573.7,658.0" fill="#abc3a9" stroke="#24621e"/>
<polygon points="1097.8,1087.8 1069.1,1092.7 1103.2,1104.2 1131.9,1100.7" fill="#8bc682" stroke="#3aa838"/>
<polygon points="655.6,831.4 647.4,833.1 650.6,837.6" fill="#fff5a4" stroke="#ffbe00"/>
<polygon points="676.0,826.2 655.6,831.4 650.6,837.6 681.5,879.0 710.2,873.4" fill="#a6d7f9" stroke="#1e92d4"/>
<polygon points="938.1,1038.1 909.5,1042.0 943.6,1064.0 972.2,1061.5" fill="#afe4a6" stroke="#3aa838"/>
<polygon points="822.1,987.5 812.5,988.6 821.9,997.2" fill="#acdcfa" stroke="#1e92d4"/>
<polygon points="841.2,984.6 822.1,987.5 821.9,997.2 846.7,1018.2 875.3,1015.5" fill="#b8ecaf" stroke="#3aa838"/>
<polygon points="710.2,873.4 681.5,879.0 715.7,920.5 744.3,916.2" fill="#a9d9f9" stroke="#1e92d4"/>
<polygon points="1383.0,1090.3 1354.3,1098.4 1388.5,1093.2 1417.1,1086.4" fill="#6aac62" stroke="#3aa838"/>
<polygon points="1320.2,1099.2 1291.6,1106.2 1325.7,1104.1 1354.3,1098.4" fill="#6aac62" stroke="#3aa838"/>
<polygon points="1445.8,1077.1 1417.1,1086.4 1451.2,1078.1 1479.9,1070.1" fill="#6aac62" stroke="#3aa838"/>
<polygon points="1035.0,1076.8 1006.3,1080.5 1040.5,1095.1 1069.1,1092.7" fill="#97d08d" stroke="#3aa838"/>
<polygon points="1257.5,1103.9 1228.8,1109.8 1262.9,1110.7 1291.6,1106.2" fill="#6aac62" stroke="#3aa838"/>
<polygon points="744.3,916.2 715.7,920.5 749.8,957.6 778.4,954.6" fill="#aadbfa" stroke="#1e92d4"/>
<polygon points="1194.7,1104.4 1166.0,1109.1 1200.2,1113.1 1228.8,1109.8" fill="#6aac62" stroke="#3aa838"/>
<polygon points="875.3,1015.5 846.7,1018.2 880.8,1043.4 909.5,1042.0" fill="#b4e8ab" stroke="#3aa838"/>
<polygon points="972.2,1061.5 943.6,1064.0 977.7,1081.7 1006.3,1080.5" fill="#a0d897" stroke="#3aa838"/>
<polygon points="1131.9,1100.7 1103.2,1104.2 1137.4,1111.3 1166.0,1109.1" fill="#76b56d" stroke="#3aa838"/>
<polygon points="545.0,669.0 516.4,677.4 528.7,698.8 550.6,678.9" fill="#acc4aa" stroke="#24621e"/>
<polygon points="528.7,698.8 550.5,735.2 579.1,728.1 550.6,678.9" fill="#ffef9c" stroke="#ffbe00"/>
<polygon points="579.1,728.1 550.5,735.2 584.6,788.6 613.3,782.8" fill="#fff2a0" stroke="#ffbe00"/>
<polygon points="510.9,605.4 482.2,615.2 516.4,677.4 545.0,669.0" fill="#aac3a8" stroke="#24621e"/>
<polygon points="778.4,954.6 749.8,957.6 783.9,990.2 812.5,988.6" fill="#abdbfa" stroke="#1e92d4"/>
<polygon points="613.3,782.8 584.6,788.6 618.8,837.6 647.4,833.1" fill="#fff4a3" stroke="#ffbe00"/>
<polygon points="647.4,833.1 618.8,837.6 635.9,860.5 650.6,837.6" fill="#fff5a4" stroke="#ffbe00"/>
<polygon points="635.9,860.5 652.9,882.1 681.5,879.0 650.6,837.6" fill="#a6d6f9" stroke="#1e92d4"/>
<polygon points="1069.1,1092.7 1040.5,1095.1 1074.6,1105.2 1103.2,1104.2" fill="#83c07a" stroke="#3aa838"/>
<polygon points="909.5,1042.0 880.8,1043.4 914.9,1064.1 943.6,1064.0" fill="#a8df9f" stroke="#3aa838"/>
<polygon points="681.5,879.0 652.9,882.1 687.0,922.3 715.7,920.5" fill="#a8d8f9" stroke="#1e92d4"/>
<polygon points="812.5,988.6 783.9,990.2 818.0,1018.4 828.0,1018.6 821.9,997.2" fill="#acdcfa" stroke="#1e92d4"/>
<polygon points="828.0,1018.6 846.7,1018.2 821.9,997.2" fill="#b8ebae" stroke="#3aa838"/>
<polygon points="1354.3,1098.4 1325.7,1104.1 1359.8,1097.5 1388.5,1093.2" fill="#6aac62" stroke="#3aa838"/>
<polygon points="1417.1,1086.4 1388.5,1093.2 1422.6,1083.6 1451.2,1078.1" fill="#2c5c2c" stroke="#3aa838"/>
<polygon points="1291.6,1106.2 1262.9,1110.7 1297.0,1107.2 1325.7,1104.1" fill="#6aac62" stroke="#3aa838"/>
<polygon points="1006.3,1080.5 977.7,1081.7 1011.8,1094.9 1040.5,1095.1" fill="#8fca86" stroke="#3aa838"/>
<polygon points="1228.8,1109.8 1200.2,1113.1 1234.3,1112.7 1262.9,1110.7" fill="#6aac62" stroke="#3aa838"/>
<polygon points="715.7,920.5 687.0,922.3 721.1,958.0 749.8,957.6" fill="#aadafa" stroke="#1e92d4"/>
<polygon points="1166.0,1109.1 1137.4,1111.3 1171.5,1114.0 1200.2,1113.1" fill="#6aac62" stroke="#3aa838"/>
<polygon points="516.4,677.4 487.7,683.4 509.4,719.8 528.7,698.8" fill="#acc4aa" stroke="#24621e"/>
<polygon points="509.4,719.8 521.8,739.9 550.5,735.2 528.7,698.8" fill="#ffef9b" stroke="#ffbe00"/>
<polygon points="828.0,1018.6 818.0,1018.4 838.2,1033.1" fill="#a2d3f8" stroke="#1e92d4"/>
<polygon points="846.7,1018.2 828.0,1018.6 838.2,1033.1 852.2,1042.3 880.8,1043.4" fill="#ade3a4" stroke="#3aa838"/>
<polygon points="482.2,615.2 453.6,622.5 487.7,683.4 516.4,677.4" fill="#aac2a8" stroke="#24621e"/>
<polygon points="550.5,735.2 521.8,739.9 556.0,791.9 584.6,788.6" fill="#fff19f" stroke="#ffbe00"/>
<polygon points="1103.2,1104.2 1074.6,1105.2 1108.7,1111.0 1137.4,1111.3" fill="#6eb066" stroke="#3aa838"/>
<polygon points="943.6,1064.0 914.9,1064.1 949.0,1080.4 977.7,1081.7" fill="#99d290" stroke="#3aa838"/>
<polygon points="584.6,788.6 556.0,791.9 590.1,839.5 618.8,837.6" fill="#fff4a2" stroke="#ffbe00"/>
<polygon points="749.8,957.6 721.1,958.0 755.2,989.3 783.9,990.2" fill="#abdbfa" stroke="#1e92d4"/>
<polygon points="618.8,837.6 590.1,839.5 624.2,882.7 627.4,882.8 635.9,860.5" fill="#fff5a4" stroke="#ffbe00"/>
<polygon points="627.4,882.8 652.9,882.1 635.9,860.5" fill="#a6d6f9" stroke="#1e92d4"/>
<polygon points="1040.5,1095.1 1011.8,1094.9 1046.0,1103.8 1074.6,1105.2" fill="#7bba73" stroke="#3aa838"/>
<polygon points="1325.7,1104.1 1297.0,1107.2 1331.2,1099.3 1359.8,1097.5" fill="#2c5c2c" stroke="#3aa838"/>
<polygon points="880.8,1043.4 852.2,1042.3 886.3,1061.7 914.9,1064.1" fill="#a0d897" stroke="#3aa838"/>
<polygon points="1388.5,1093.2 1359.8,1097.5 1394.0,1086.6 1422.6,1083.6" fill="#2c5c2c" stroke="#3aa838"/>
<polygon points="627.4,882.8 624.2,882.7 626.7,885.8" fill="#fff5a4" stroke="#ffbe00"/>
<polygon points="652.9,882.1 627.4,882.8 626.7,885.8 658.3,921.5 687.0,922.3" fill="#a7d7f9" stroke="#1e92d4"/>
<polygon points="1262.9,1110.7 1234.3,1112.7 1268.4,1107.9 1297.0,1107.2" fill="#2c5c2c" stroke="#3aa838"/>
<polygon points="783.9,990.2 755.2,989.3 789.4,1016.2 818.0,1018.4" fill="#a7d7f9" stroke="#1e92d4"/>
<polygon points="1200.2,1113.1 1171.5,1114.0 1205.6,1112.2 1234.3,1112.7" fill="#2c5c2c" stroke="#3aa838"/>
<polygon points="977.7,1081.7 949.0,1080.4 983.2,1092.3 1011.8,1094.9" fill="#87c37e" stroke="#3aa838"/>
<polygon points="687.0,922.3 658.3,921.5 692.5,955.9 721.1,958.0" fill="#a9d9f9" stroke="#1e92d4"/>
<polygon points="1137.4,1111.3 1108.7,1111.0 1142.8,1112.3 1171.5,1114.0" fill="#6aac62" stroke="#3aa838"/>
<polygon points="487.7,683.4 459.1,686.9 493.2,742.0 493.3,742.0 509.4,719.8" fill="#acc4aa" stroke="#24621e"/>
<polygon points="493.3,742.0 521.8,739.9 509.4,719.8" fill="#ffef9b" stroke="#ffbe00"/>
<polygon points="453.6,622.5 424.9,627.3 459.1,686.9 487.7,683.4" fill="#a9c2a7" stroke="#24621e"/>
<polygon points="493.3,742.0 493.2,742.0 493.3,742.1" fill="#acc4aa" stroke="#24621e"/>
<polygon points="521.8,739.9 493.3,742.0 493.3,742.1 527.3,792.7 556.0,791.9" fill="#fff09d" stroke="#ffbe00"/>
<polygon points="818.0,1018.4 789.4,1016.2 823.5,1038.7 847.2,1041.8 838.2,1033.1" fill="#9dcdf7" stroke="#1e92d4"/>
<polygon points="847.2,1041.8 852.2,1042.3 838.2,1033.1" fill="#a7dd9d" stroke="#3aa838"/>
<polygon points="1074.6,1105.2 1046.0,1103.8 1080.1,1108.2 1108.7,1111.0" fill="#6aac62" stroke="#3aa838"/>
<polygon points="914.9,1064.1 886.3,1061.7 920.4,1076.6 949.0,1080.4" fill="#90cb88" stroke="#3aa838"/>
<polygon points="556.0,791.9 527.3,792.7 561.5,839.0 590.1,839.5" fill="#fff3a1" stroke="#ffbe00"/>
<polygon points="721.1,958.0 692.5,955.9 726.6,985.9 755.2,989.3" fill="#a9d9f9" stroke="#1e92d4"/>
<polygon points="590.1,839.5 561.5,839.0 595.6,880.9 624.2,882.7" fill="#fff4a3" stroke="#ffbe00"/>
<polygon points="1011.8,1094.9 983.2,1092.3 1017.3,1099.8 1046.0,1103.8" fill="#74b46b" stroke="#3aa838"/>
<polygon points="1359.8,1097.5 1331.2,1099.3 1365.3,1087.0 1394.0,1086.6" fill="#2c5c2c" stroke="#3aa838"/>
<polygon points="1297.0,1107.2 1268.4,1107.9 1302.5,1098.7 1331.2,1099.3" fill="#2c5c2c" stroke="#3aa838"/>
<polygon points="624.2,882.7 595.6,880.9 626.1,914.5 626.7,885.8" fill="#fff5a4" stroke="#ffbe00"/>
<polygon points="626.1,914.5 629.7,918.3 658.3,921.5 626.7,885.8" fill="#a6d6f9" stroke="#1e92d4"/>
<polygon points="1234.3,1112.7 1205.6,1112.2 1239.8,1106.1 1268.4,1107.9" fill="#2c5c2c" stroke="#3aa838"/>
<polygon points="847.2,1041.8 823.5,1038.7 857.6,1056.7 874.9,1060.0" fill="#91c1f4" stroke="#1e92d4"/>
<polygon points="852.2,1042.3 847.2,1041.8 874.9,1060.0 886.3,1061.7" fill="#98d28f" stroke="#3aa838"/>
<polygon points="755.2,989.3 726.6,985.9 760.7,1011.4 789.4,1016.2" fill="#a1d1f8" stroke="#1e92d4"/>
<polygon points="1171.5,1114.0 1142.8,1112.3 1177.0,1109.2 1205.6,1112.2" fill="#2c5c2c" stroke="#3aa838"/>
<polygon points="949.0,1080.4 920.4,1076.6 954.5,1087.2 983.2,1092.3" fill="#7fbd76" stroke="#3aa838"/>
<polygon points="658.3,921.5 629.7,918.3 663.8,951.4 692.5,955.9" fill="#a7d7f9" stroke="#1e92d4"/>
<polygon points="1108.7,1111.0 1080.1,1108.2 1114.2,1108.2 1142.8,1112.3" fill="#2c5c2c" stroke="#3aa838"/>
<polygon points="424.9,627.3 396.3,629.6 430.4,687.8 459.1,686.9" fill="#a7c1a6" stroke="#24621e"/>
<polygon points="459.1,686.9 430.4,687.8 464.5,741.6 493.2,742.0" fill="#abc3a9" stroke="#24621e"/>
<polygon points="493.2,742.0 464.5,741.6 481.0,766.0 493.3,742.1" fill="#acc4aa" stroke="#24621e"/>
<polygon points="481.0,766.0 498.7,791.0 527.3,792.7 493.3,742.1" fill="#ffef9c" stroke="#ffbe00"/>
<polygon points="789.4,1016.2 760.7,1011.4 794.8,1032.6 823.5,1038.7" fill="#97c7f6" stroke="#1e92d4"/>
<polygon points="1046.0,1103.8 1017.3,1099.8 1051.4,1102.9 1080.1,1108.2" fill="#2c5c2c" stroke="#3aa838"/>
<polygon points="527.3,792.7 498.7,791.0 532.8,835.9 561.5,839.0" fill="#fff29f" stroke="#ffbe00"/>
<polygon points="874.9,1060.0 857.6,1056.7 891.8,1070.4 908.8,1074.4" fill="#83b4f1" stroke="#1e92d4"/>
<polygon points="886.3,1061.7 874.9,1060.0 908.8,1074.4 920.4,1076.6" fill="#88c580" stroke="#3aa838"/>
<polygon points="692.5,955.9 663.8,951.4 698.0,980.0 726.6,985.9" fill="#a3d3f8" stroke="#1e92d4"/>
<polygon points="561.5,839.0 532.8,835.9 566.9,876.5 595.6,880.9" fill="#fff3a2" stroke="#ffbe00"/>
<polygon points="979.1,1092.1 988.6,1093.4 991.8,1094.2" fill="#3a4e64" stroke="#1e92d4"/>
<polygon points="983.2,1092.3 954.5,1087.2 979.1,1092.1 991.8,1094.2 1017.3,1099.8" fill="#2c5c2c" stroke="#3aa838"/>
<polygon points="1323.1,1091.0 1336.7,1085.0 1353.7,1086.5" fill="#3a4e64" stroke="#1e92d4"/>
<polygon points="1331.2,1099.3 1302.5,1098.7 1323.1,1091.0 1353.7,1086.5 1365.3,1087.0" fill="#2c5c2c" stroke="#3aa838"/>
<polygon points="1268.9,1097.3 1273.9,1095.5 1279.1,1096.3" fill="#3a4e64" stroke="#1e92d4"/>
<polygon points="1268.4,1107.9 1239.8,1106.1 1268.9,1097.3 1279.1,1096.3 1302.5,1098.7" fill="#2c5c2c" stroke="#3aa838"/>
<polygon points="1210.5,1101.9 1211.1,1101.8 1211.6,1101.9" fill="#3a4e64" stroke="#1e92d4"/>
<polygon points="1205.6,1112.2 1177.0,1109.2 1210.5,1101.9 1211.6,1101.9 1239.8,1106.1" fill="#2c5c2c" stroke="#3aa838"/>
<polygon points="595.6,880.9 566.9,876.5 601.0,912.6 626.7,917.8 626.1,914.5" fill="#fff5a3" stroke="#ffbe00"/>
<polygon points="626.7,917.8 629.7,918.3 626.1,914.5" fill="#a5d5f9" stroke="#1e92d4"/>
<polygon points="823.5,1038.7 794.8,1032.6 829.0,1049.3 857.6,1056.7" fill="#8abbf3" stroke="#1e92d4"/>
<polygon points="726.6,985.9 698.0,980.0 732.1,1004.2 760.7,1011.4" fill="#9bcbf6" stroke="#1e92d4"/>
<polygon points="1146.5,1104.1 1148.3,1103.8 1149.7,1104.1" fill="#3a4e64" stroke="#1e92d4"/>
<polygon points="1142.8,1112.3 1114.2,1108.2 1146.5,1104.1 1149.7,1104.1 1177.0,1109.2" fill="#2c5c2c" stroke="#3aa838"/>
<polygon points="908.8,1074.4 891.8,1070.4 925.9,1079.6 948.0,1085.7" fill="#73a5ee" stroke="#1e92d4"/>
<polygon points="920.4,1076.6 908.8,1074.4 948.0,1085.7 954.5,1087.2" fill="#77b76f" stroke="#3aa838"/>
<polygon points="369.7,629.6 367.6,629.5 368.6,631.2" fill="#a5c3e6" stroke="#065a96"/>
<polygon points="396.3,629.6 369.7,629.6 368.6,631.2 401.8,686.3 430.4,687.8" fill="#a5bfa4" stroke="#24621e"/>
<polygon points="430.4,687.8 401.8,686.3 435.9,738.8 464.5,741.6" fill="#aac2a8" stroke="#24621e"/>
<polygon points="626.7,917.8 601.0,912.6 635.2,944.3 638.7,945.3" fill="#fff3a0" stroke="#ffbe00"/>
<polygon points="629.7,918.3 626.7,917.8 638.7,945.3 663.8,951.4" fill="#a4d4f8" stroke="#1e92d4"/>
<polygon points="1073.4,1102.5 1085.5,1101.6 1092.6,1103.4" fill="#3a4e64" stroke="#1e92d4"/>
<polygon points="1080.1,1108.2 1051.4,1102.9 1073.4,1102.5 1092.6,1103.4 1114.2,1108.2" fill="#2c5c2c" stroke="#3aa838"/>
<polygon points="464.5,741.6 435.9,738.8 470.0,786.8 474.7,787.6 481.0,766.0" fill="#acc4aa" stroke="#24621e"/>
<polygon points="474.7,787.6 498.7,791.0 481.0,766.0" fill="#ffef9b" stroke="#ffbe00"/>
<polygon points="474.7,787.6 470.0,786.8 474.0,792.1" fill="#acc4aa" stroke="#24621e"/>
<polygon points="498.7,791.0 474.7,787.6 474.0,792.1 504.1,830.4 532.8,835.9" fill="#fff09c" stroke="#ffbe00"/>
<polygon points="760.7,1011.4 732.1,1004.2 766.2,1024.0 794.8,1032.6" fill="#90c1f4" stroke="#1e92d4"/>
<polygon points="991.8,1094.2 988.6,1093.4 1022.8,1095.1 1040.1,1100.1" fill="#3a4e64" stroke="#1e92d4"/>
<polygon points="1017.3,1099.8 991.8,1094.2 1040.1,1100.1 1051.4,1102.9" fill="#2c5c2c" stroke="#3aa838"/>
<polygon points="857.6,1056.7 829.0,1049.3 863.1,1061.6 891.8,1070.4" fill="#7cadf0" stroke="#1e92d4"/>
<polygon points="638.7,945.3 635.2,944.3 642.4,950.4" fill="#ffea94" stroke="#ffbe00"/>
<polygon points="663.8,951.4 638.7,945.3 642.4,950.4 669.3,971.6 698.0,980.0" fill="#9ccdf7" stroke="#1e92d4"/>
<polygon points="532.8,835.9 504.1,830.4 538.3,869.6 566.9,876.5" fill="#fff2a0" stroke="#ffbe00"/>
<polygon points="1279.1,1096.3 1273.9,1095.5 1308.0,1080.5 1336.7,1085.0 1323.1,1091.0" fill="#3a4e64" stroke="#1e92d4"/>
<polygon points="1302.5,1098.7 1279.1,1096.3 1323.1,1091.0" fill="#2c5c2c" stroke="#3aa838"/>
<polygon points="948.0,1085.7 925.9,1079.6 960.0,1084.4 988.6,1093.4 979.1,1092.1" fill="#3a4e64" stroke="#1e92d4"/>
<polygon points="954.5,1087.2 948.0,1085.7 979.1,1092.1" fill="#2c5c2c" stroke="#3aa838"/>
<polygon points="1211.6,1101.9 1211.1,1101.8 1245.2,1089.9 1273.9,1095.5 1268.9,1097.3" fill="#3a4e64" stroke="#1e92d4"/>
<polygon points="1239.8,1106.1 1211.6,1101.9 1268.9,1097.3" fill="#2c5c2c" stroke="#3aa838"/>
<polygon points="1149.7,1104.1 1148.3,1103.8 1182.5,1094.9 1211.1,1101.8 1210.5,1101.9" fill="#3a4e64" stroke="#1e92d4"/>
<polygon points="1177.0,1109.2 1149.7,1104.1 1210.5,1101.9" fill="#2c5c2c" stroke="#3aa838"/>
<polygon points="566.9,876.5 538.3,869.6 572.4,904.4 601.0,912.6" fill="#fff3a2" stroke="#ffbe00"/>
<polygon points="794.8,1032.6 766.2,1024.0 800.3,1039.4 829.0,1049.3" fill="#83b4f2" stroke="#1e92d4"/>
<polygon points="698.0,980.0 669.3,971.6 703.4,994.5 732.1,1004.2" fill="#94c4f5" stroke="#1e92d4"/>
<polygon points="1092.6,1103.4 1085.5,1101.6 1119.7,1095.8 1148.3,1103.8 1146.5,1104.1" fill="#3a4e64" stroke="#1e92d4"/>
<polygon points="1114.2,1108.2 1092.6,1103.4 1146.5,1104.1" fill="#2c5c2c" stroke="#3aa838"/>
<polygon points="367.6,629.5 339.0,626.8 355.9,654.9 368.6,631.2" fill="#a5c3e6" stroke="#065a96"/>
<polygon points="355.9,654.9 373.1,682.3 401.8,686.3 368.6,631.2" fill="#a4bea3" stroke="#24621e"/>
<polygon points="891.8,1070.4 863.1,1061.6 897.2,1069.5 925.9,1079.6" fill="#3a4e64" stroke="#1e92d4"/>
<polygon points="401.8,686.3 373.1,682.3 407.2,733.4 435.9,738.8" fill="#a8c1a6" stroke="#24621e"/>
<polygon points="601.0,912.6 572.4,904.4 606.5,934.7 635.2,944.3" fill="#ffed99" stroke="#ffbe00"/>
<polygon points="1040.1,1100.1 1022.8,1095.1 1056.9,1092.4 1085.5,1101.6 1073.4,1102.5" fill="#3a4e64" stroke="#1e92d4"/>
<polygon points="1051.4,1102.9 1040.1,1100.1 1073.4,1102.5" fill="#2c5c2c" stroke="#3aa838"/>
<polygon points="435.9,738.8 407.2,733.4 441.4,780.1 470.0,786.8" fill="#abc3a9" stroke="#24621e"/>
<polygon points="470.0,786.8 441.4,780.1 474.8,821.5 474.0,792.1" fill="#acc4aa" stroke="#24621e"/>
<polygon points="474.8,821.5 475.5,822.4 504.1,830.4 474.0,792.1" fill="#ffef9b" stroke="#ffbe00"/>
<polygon points="732.1,1004.2 703.4,994.5 737.5,1012.9 766.2,1024.0" fill="#89baf3" stroke="#1e92d4"/>
<polygon points="988.6,1093.4 960.0,1084.4 994.1,1084.8 1022.8,1095.1" fill="#3a4e64" stroke="#1e92d4"/>
<polygon points="829.0,1049.3 800.3,1039.4 834.5,1050.4 863.1,1061.6" fill="#3a4e64" stroke="#1e92d4"/>
<polygon points="635.2,944.3 606.5,934.7 640.6,960.7 658.9,967.9 642.4,950.4" fill="#ffe48c" stroke="#ffbe00"/>
<polygon points="658.9,967.9 669.3,971.6 642.4,950.4" fill="#97c7f6" stroke="#1e92d4"/>
<polygon points="504.1,830.4 475.5,822.4 509.6,860.2 538.3,869.6" fill="#fff09d" stroke="#ffbe00"/>
<polygon points="1273.9,1095.5 1245.2,1089.9 1279.3,1073.5 1308.0,1080.5" fill="#3a4e64" stroke="#1e92d4"/>
<polygon points="1211.1,1101.8 1182.5,1094.9 1216.6,1081.7 1245.2,1089.9" fill="#3a4e64" stroke="#1e92d4"/>
<polygon points="925.9,1079.6 897.2,1069.5 931.3,1073.0 960.0,1084.4" fill="#3a4e64" stroke="#1e92d4"/>
<polygon points="1148.3,1103.8 1119.7,1095.8 1153.8,1085.6 1182.5,1094.9" fill="#3a4e64" stroke="#1e92d4"/>
<polygon points="538.3,869.6 509.6,860.2 543.8,893.7 572.4,904.4" fill="#ffed99" stroke="#ffbe00"/>
<polygon points="766.2,1024.0 737.5,1012.9 771.7,1027.0 800.3,1039.4" fill="#7caef0" stroke="#1e92d4"/>
<polygon points="658.9,967.9 640.6,960.7 674.8,982.2 685.1,986.9" fill="#ffd97c" stroke="#ffbe00"/>
<polygon points="669.3,971.6 658.9,967.9 685.1,986.9 703.4,994.5" fill="#8dbef4" stroke="#1e92d4"/>
<polygon points="1085.5,1101.6 1056.9,1092.4 1091.0,1085.3 1119.7,1095.8" fill="#3a4e64" stroke="#1e92d4"/>
<polygon points="863.1,1061.6 834.5,1050.4 868.6,1056.9 897.2,1069.5" fill="#3a4e64" stroke="#1e92d4"/>
<polygon points="1022.8,1095.1 994.1,1084.8 1028.2,1080.8 1056.9,1092.4" fill="#3a4e64" stroke="#1e92d4"/>
<polygon points="572.4,904.4 543.8,893.7 577.9,922.7 606.5,934.7" fill="#ffe68f" stroke="#ffbe00"/>
<polygon points="685.1,986.9 674.8,982.2 708.9,999.4 716.2,1003.0" fill="#ffcd6b" stroke="#ffbe00"/>
<polygon points="703.4,994.5 685.1,986.9 716.2,1003.0 737.5,1012.9" fill="#82b3f1" stroke="#1e92d4"/>
<polygon points="960.0,1084.4 931.3,1073.0 965.5,1072.0 994.1,1084.8" fill="#3a4e64" stroke="#1e92d4"/>
<polygon points="800.3,1039.4 771.7,1027.0 805.8,1036.6 834.5,1050.4" fill="#3a4e64" stroke="#1e92d4"/>
<polygon points="606.5,934.7 577.9,922.7 612.0,947.3 640.6,960.7" fill="#ffdd82" stroke="#ffbe00"/>
<polygon points="1245.2,1089.9 1216.6,1081.7 1250.7,1064.0 1279.3,1073.5" fill="#3a4e64" stroke="#1e92d4"/>
<polygon points="1182.5,1094.9 1153.8,1085.6 1187.9,1071.1 1216.6,1081.7" fill="#3a4e64" stroke="#1e92d4"/>
<polygon points="897.2,1069.5 868.6,1056.9 902.7,1059.0 931.3,1073.0" fill="#3a4e64" stroke="#1e92d4"/>
<polygon points="1119.7,1095.8 1091.0,1085.3 1125.2,1073.8 1153.8,1085.6" fill="#3a4e64" stroke="#1e92d4"/>
<polygon points="716.2,1003.0 708.9,999.4 743.0,1012.1 751.4,1016.7" fill="#735834" stroke="#ffbe00"/>
<polygon points="737.5,1012.9 716.2,1003.0 751.4,1016.7 771.7,1027.0" fill="#3a4e64" stroke="#1e92d4"/>
<polygon points="1056.9,1092.4 1028.2,1080.8 1062.4,1072.4 1091.0,1085.3" fill="#3a4e64" stroke="#1e92d4"/>
<polygon points="640.6,960.7 612.0,947.3 646.1,967.5 674.8,982.2" fill="#ffd273" stroke="#ffbe00"/>
<polygon points="834.5,1050.4 805.8,1036.6 839.9,1041.8 868.6,1056.9" fill="#3a4e64" stroke="#1e92d4"/>
<polygon points="994.1,1084.8 965.5,1072.0 999.6,1066.7 1028.2,1080.8" fill="#3a4e64" stroke="#1e92d4"/>
<polygon points="931.3,1073.0 902.7,1059.0 936.8,1056.8 965.5,1072.0" fill="#3a4e64" stroke="#1e92d4"/>
<polygon points="674.8,982.2 646.1,967.5 680.2,983.3 708.9,999.4" fill="#735834" stroke="#ffbe00"/>
<polygon points="751.4,1016.7 743.0,1012.1 777.1,1020.4 790.3,1028.1" fill="#735834" stroke="#ffbe00"/>
<polygon points="771.7,1027.0 751.4,1016.7 790.3,1028.1 805.8,1036.6" fill="#3a4e64" stroke="#1e92d4"/>
<polygon points="1216.6,1081.7 1187.9,1071.1 1222.0,1052.1 1250.7,1064.0" fill="#3a4e64" stroke="#1e92d4"/>
<polygon points="1153.8,1085.6 1125.2,1073.8 1159.3,1057.9 1187.9,1071.1" fill="#3a4e64" stroke="#1e92d4"/>
<polygon points="862.9,1042.8 874.0,1042.6 878.1,1045.1" fill="#735834" stroke="#ffbe00"/>
<polygon points="868.6,1056.9 839.9,1041.8 862.9,1042.8 878.1,1045.1 902.7,1059.0" fill="#3a4e64" stroke="#1e92d4"/>
<polygon points="1091.0,1085.3 1062.4,1072.4 1096.5,1059.5 1125.2,1073.8" fill="#3a4e64" stroke="#1e92d4"/>
<polygon points="1028.2,1080.8 999.6,1066.7 1033.7,1056.9 1062.4,1072.4" fill="#3a4e64" stroke="#1e92d4"/>
<polygon points="708.9,999.4 680.2,983.3 714.4,994.7 743.0,1012.1" fill="#735834" stroke="#ffbe00"/>
<polygon points="790.3,1028.1 777.1,1020.4 811.3,1024.2 832.6,1037.6" fill="#735834" stroke="#ffbe00"/>
<polygon points="805.8,1036.6 790.3,1028.1 832.6,1037.6 839.9,1041.8" fill="#3a4e64" stroke="#1e92d4"/>
<polygon points="957.2,1053.3 971.0,1050.1 978.4,1054.6" fill="#735834" stroke="#ffbe00"/>
<polygon points="965.5,1072.0 936.8,1056.8 957.2,1053.3 978.4,1054.6 999.6,1066.7" fill="#3a4e64" stroke="#1e92d4"/>
<polygon points="878.1,1045.1 874.0,1042.6 908.2,1039.0 926.7,1050.8" fill="#735834" stroke="#ffbe00"/>
<polygon points="902.7,1059.0 878.1,1045.1 926.7,1050.8 936.8,1056.8" fill="#3a4e64" stroke="#1e92d4"/>
<polygon points="743.0,1012.1 714.4,994.7 748.5,1001.6 777.1,1020.4" fill="#735834" stroke="#ffbe00"/>
<polygon points="1166.6,1053.9 1193.4,1037.6 1218.3,1050.3" fill="#735834" stroke="#ffbe00"/>
<polygon points="1187.9,1071.1 1159.3,1057.9 1166.6,1053.9 1218.3,1050.3 1222.0,1052.1" fill="#3a4e64" stroke="#1e92d4"/>
<polygon points="1103.3,1056.4 1130.6,1042.3 1152.9,1054.6" fill="#735834" stroke="#ffbe00"/>
<polygon points="1125.2,1073.8 1096.5,1059.5 1103.3,1056.4 1152.9,1054.6 1159.3,1057.9" fill="#3a4e64" stroke="#1e92d4"/>
<polygon points="1034.5,1056.6 1067.8,1042.7 1091.3,1056.7" fill="#735834" stroke="#ffbe00"/>
<polygon points="1062.4,1072.4 1033.7,1056.9 1034.5,1056.6 1091.3,1056.7 1096.5,1059.5" fill="#3a4e64" stroke="#1e92d4"/>
<polygon points="832.6,1037.6 811.3,1024.2 845.4,1023.7 874.0,1042.6 862.9,1042.8" fill="#735834" stroke="#ffbe00"/>
<polygon points="839.9,1041.8 832.6,1037.6 862.9,1042.8" fill="#3a4e64" stroke="#1e92d4"/>
<polygon points="978.4,1054.6 971.0,1050.1 1005.1,1039.0 1033.2,1056.6" fill="#735834" stroke="#ffbe00"/>
<polygon points="999.6,1066.7 978.4,1054.6 1033.2,1056.6 1033.7,1056.9" fill="#3a4e64" stroke="#1e92d4"/>
<polygon points="777.1,1020.4 748.5,1001.6 782.6,1004.1 811.3,1024.2" fill="#735834" stroke="#ffbe00"/>
<polygon points="926.7,1050.8 908.2,1039.0 942.3,1031.0 971.0,1050.1 957.2,1053.3" fill="#735834" stroke="#ffbe00"/>
<polygon points="936.8,1056.8 926.7,1050.8 957.2,1053.3" fill="#3a4e64" stroke="#1e92d4"/>
<polygon points="874.0,1042.6 845.4,1023.7 879.5,1018.7 908.2,1039.0" fill="#735834" stroke="#ffbe00"/>
<polygon points="1152.9,1054.6 1130.6,1042.3 1164.8,1020.6 1193.4,1037.6 1166.6,1053.9" fill="#735834" stroke="#ffbe00"/>
<polygon points="1159.3,1057.9 1152.9,1054.6 1166.6,1053.9" fill="#3a4e64" stroke="#1e92d4"/>
<polygon points="1091.3,1056.7 1067.8,1042.7 1102.0,1024.1 1130.6,1042.3 1103.3,1056.4" fill="#735834" stroke="#ffbe00"/>
<polygon points="1096.5,1059.5 1091.3,1056.7 1103.3,1056.4" fill="#3a4e64" stroke="#1e92d4"/>
<polygon points="1033.2,1056.6 1005.1,1039.0 1039.2,1023.4 1067.8,1042.7 1034.5,1056.6" fill="#735834" stroke="#ffbe00"/>
<polygon points="1033.7,1056.9 1033.2,1056.6 1034.5,1056.6" fill="#3a4e64" stroke="#1e92d4"/>
<polygon points="811.3,1024.2 782.6,1004.1 816.8,1002.3 845.4,1023.7" fill="#735834" stroke="#ffbe00"/>
<polygon points="971.0,1050.1 942.3,1031.0 976.4,1018.5 1005.1,1039.0" fill="#735834" stroke="#ffbe00"/>
<polygon points="908.2,1039.0 879.5,1018.7 913.6,1009.4 942.3,1031.0" fill="#735834" stroke="#ffbe00"/>
<polygon points="845.4,1023.7 816.8,1002.3 850.9,996.0 879.5,1018.7" fill="#735834" stroke="#ffbe00"/>
<polygon points="1130.6,1042.3 1102.0,1024.1 1136.1,1001.1 1164.8,1020.6" fill="#735834" stroke="#ffbe00"/>
<polygon points="1067.8,1042.7 1039.2,1023.4 1073.3,1003.5 1102.0,1024.1" fill="#735834" stroke="#ffbe00"/>
<polygon points="1005.1,1039.0 976.4,1018.5 1010.5,1001.7 1039.2,1023.4" fill="#735834" stroke="#ffbe00"/>
<polygon points="942.3,1031.0 913.6,1009.4 947.8,995.6 976.4,1018.5" fill="#735834" stroke="#ffbe00"/>
<polygon points="874.5,989.0 885.0,985.3 890.5,990.1" fill="#3e463e" stroke="#24621e"/>
<polygon points="879.5,1018.7 850.9,996.0 874.5,989.0 890.5,990.1 913.6,1009.4" fill="#735834" stroke="#ffbe00"/>
<polygon points="1090.0,992.1 1107.5,979.2 1122.1,990.7" fill="#3e463e" stroke="#24621e"/>
<polygon points="1102.0,1024.1 1073.3,1003.5 1090.0,992.1 1122.1,990.7 1136.1,1001.1" fill="#735834" stroke="#ffbe00"/>
<polygon points="1024.3,993.6 1044.7,980.4 1060.0,993.1" fill="#3e463e" stroke="#24621e"/>
<polygon points="1039.2,1023.4 1010.5,1001.7 1024.3,993.6 1060.0,993.1 1073.3,1003.5" fill="#735834" stroke="#ffbe00"/>
<polygon points="953.3,993.0 981.9,977.4 1000.8,993.7" fill="#3e463e" stroke="#24621e"/>
<polygon points="976.4,1018.5 947.8,995.6 953.3,993.0 1000.8,993.7 1010.5,1001.7" fill="#735834" stroke="#ffbe00"/>
<polygon points="890.5,990.1 885.0,985.3 919.1,970.1 944.4,992.7" fill="#3e463e" stroke="#24621e"/>
<polygon points="913.6,1009.4 890.5,990.1 944.4,992.7 947.8,995.6" fill="#735834" stroke="#ffbe00"/>
<polygon points="1060.0,993.1 1044.7,980.4 1078.8,954.7 1107.5,979.2 1090.0,992.1" fill="#3e463e" stroke="#24621e"/>
<polygon points="1073.3,1003.5 1060.0,993.1 1090.0,992.1" fill="#735834" stroke="#ffbe00"/>
<polygon points="1000.8,993.7 981.9,977.4 1016.0,954.8 1044.7,980.4 1024.3,993.6" fill="#3e463e" stroke="#24621e"/>
<polygon points="1010.5,1001.7 1000.8,993.7 1024.3,993.6" fill="#735834" stroke="#ffbe00"/>
<polygon points="944.4,992.7 919.1,970.1 953.2,950.6 981.9,977.4 953.3,993.0" fill="#3e463e" stroke="#24621e"/>
<polygon points="947.8,995.6 944.4,992.7 953.3,993.0" fill="#735834" stroke="#ffbe00"/>
<polygon points="1044.7,980.4 1016.0,954.8 1050.2,927.7 1078.8,954.7" fill="#3e463e" stroke="#24621e"/>
<polygon points="981.9,977.4 953.2,950.6 987.4,926.7 1016.0,954.8" fill="#3e463e" stroke="#24621e"/>
<polygon points="993.4,922.0 1021.5,898.3 1043.2,920.9" fill="#373e56" stroke="#065a96"/>
<polygon points="1016.0,954.8 987.4,926.7 993.4,922.0 1043.2,920.9 1050.2,927.7" fill="#3e463e" stroke="#24621e"/>
<path d="M963.3 328.3L920.7 339.5M920.7 339.5L910.4 342.4M910.4 342.4L879.3 351.2M879.3 351.2L839.1 363.4M839.1 363.4L799.9 376.0M799.9 376.0L790.1 379.3M369.7 629.6L368.6 631.2M368.6 631.2L355.9 654.9" stroke="#24621e" class="c"/>
<path d="M1030.6 473.3L987.5 484.3M987.5 484.3L982.0 485.7M982.0 485.7L945.7 495.8M945.7 495.8L905.3 507.9M905.3 507.9L866.1 520.6M866.1 520.6L864.5 521.1M864.5 521.1L828.1 533.7M828.1 533.7L791.5 547.4M791.5 547.4L756.2 561.7M756.2 561.7L722.2 576.5M722.2 576.5L689.6 591.9M689.6 591.9L675.3 599.1M675.3 599.1L658.4 607.9M658.4 607.9L628.8 624.6M628.8 624.6L600.9 641.9M583.5 653.7L574.7 660.0M600.9 641.9L583.5 653.7M574.7 660.0L550.6 678.9M550.6 678.9L528.7 698.8M528.7 698.8L509.4 719.8M509.4 719.8L493.3 742.0M493.3 742.0L493.3 742.1M493.3 742.1L481.0 766.0M481.0 766.0L474.7 787.6M474.7 787.6L474.0 792.1M474.0 792.1L474.8 821.5" stroke="#ffbe00" class="c"/>
<path d="M1110.8 623.7L1066.8 634.3M1066.8 634.3L1027.3 644.8M1027.3 644.8L1024.4 645.6M1024.4 645.6L983.6 657.6M983.6 657.6L944.4 670.2M944.4 670.2L906.7 683.5M906.7 683.5L900.1 685.9M900.1 685.9L870.6 697.4M870.6 697.4L836.1 712.0M836.1 712.0L803.3 727.3M803.3 727.3L772.3 743.3M772.3 743.3L743.1 760.2M743.1 760.2L716.1 777.9M716.1 777.9L691.4 796.6M691.4 796.6L669.4 816.5M669.4 816.5L655.6 831.4M655.6 831.4L650.6 837.6M650.6 837.6L635.9 860.5M635.9 860.5L627.4 882.8M627.4 882.8L626.7 885.8M626.7 885.8L626.1 914.5M626.1 914.5L626.7 917.8M626.7 917.8L638.7 945.3M638.7 945.3L642.4 950.4M642.4 950.4L658.9 967.9M658.9 967.9L685.1 986.9M685.1 986.9L716.2 1003.0" stroke="#1e92d4" class="c"/>
<path d="M1216.8 784.9L1170.6 794.6M1129.6 804.6L1126.8 805.3M1170.6 794.6L1129.6 804.6M1126.8 805.3L1085.2 817.0M1085.2 817.0L1045.9 829.5M1045.9 829.5L1008.8 843.0M1003.2 845.2L973.8 857.4M1008.8 843.0L1003.2 845.2M973.8 857.4L941.3 872.9M941.3 872.9L911.3 889.3M911.3 889.3L884.1 907.0M884.1 907.0L860.3 926.1M860.3 926.1L849.6 936.6M849.6 936.6L840.7 946.9M840.7 946.9L826.8 970.2M826.8 970.2L822.1 987.5M822.1 987.5L821.9 997.2M821.9 997.2L828.0 1018.6M828.0 1018.6L838.2 1033.1M838.2 1033.1L847.2 1041.8M847.2 1041.8L874.9 1060.0M874.9 1060.0L908.8 1074.4M908.8 1074.4L948.0 1085.7" stroke="#3aa838" class="c"/>
<polygon points="1417.1,1086.4 1388.5,1093.2 1422.6,1083.6 1451.2,1078.1" fill="#2c5c2c" stroke="#3aa838"/>
<polygon points="1325.7,1104.1 1297.0,1107.2 1331.2,1099.3 1359.8,1097.5" fill="#2c5c2c" stroke="#3aa838"/>
<polygon points="1388.5,1093.2 1359.8,1097.5 1394.0,1086.6 1422.6,1083.6" fill="#2c5c2c" stroke="#3aa838"/>
<polygon points="1262.9,1110.7 1234.3,1112.7 1268.4,1107.9 1297.0,1107.2" fill="#2c5c2c" stroke="#3aa838"/>
<polygon points="1200.2,1113.1 1171.5,1114.0 1205.6,1112.2 1234.3,1112.7" fill="#2c5c2c" stroke="#3aa838"/>
<polygon points="1359.8,1097.5 1331.2,1099.3 1365.3,1087.0 1394.0,1086.6" fill="#2c5c2c" stroke="#3aa838"/>
<polygon points="1297.0,1107.2 1268.4,1107.9 1302.5,1098.7 1331.2,1099.3" fill="#2c5c2c" stroke="#3aa838"/>
<polygon points="1234.3,1112.7 1205.6,1112.2 1239.8,1106.1 1268.4,1107.9" fill="#2c5c2c" stroke="#3aa838"/>
<polygon points="1171.5,1114.0 1142.8,1112.3 1177.0,1109.2 1205.6,1112.2" fill="#2c5c2c" stroke="#3aa838"/>
<polygon points="1108.7,1111.0 1080.1,1108.2 1114.2,1108.2 1142.8,1112.3" fill="#2c5c2c" stroke="#3aa838"/>
<polygon points="1046.0,1103.8 1017.3,1099.8 1051.4,1102.9 1080.1,1108.2" fill="#2c5c2c" stroke="#3aa838"/>
<polygon points="979.1,1092.1 988.6,1093.4 991.8,1094.2" fill="#3a4e64" stroke="#1e92d4"/>
<polygon points="983.2,1092.3 954.5,1087.2 979.1,1092.1 991.8,1094.2 1017.3,1099.8" fill="#2c5c2c" stroke="#3aa838"/>
<path d="M979.1 1092.1L991.8 1094.2" stroke="#3aa838" class="c"/>
<polygon points="1323.1,1091.0 1336.7,1085.0 1353.7,1086.5" fill="#3a4e64" stroke="#1e92d4"/>
<polygon points="1331.2,1099.3 1302.5,1098.7 1323.1,1091.0 1353.7,1086.5 1365.3,1087.0" fill="#2c5c2c" stroke="#3aa838"/>
<path d="M1323.1 1091.0L1353.7 1086.5" stroke="#3aa838" class="c"/>
<polygon points="1268.9,1097.3 1273.9,1095.5 1279.1,1096.3" fill="#3a4e64" stroke="#1e92d4"/>
<polygon points="1268.4,1107.9 1239.8,1106.1 1268.9,1097.3 1279.1,1096.3 1302.5,1098.7" fill="#2c5c2c" stroke="#3aa838"/>
<path d="M1268.9 1097.3L1279.1 1096.3" stroke="#3aa838" class="c"/>
<polygon points="1210.5,1101.9 1211.1,1101.8 1211.6,1101.9" fill="#3a4e64" stroke="#1e92d4"/>
<polygon points="1205.6,1112.2 1177.0,1109.2 1210.5,1101.9 1211.6,1101.9 1239.8,1106.1" fill="#2c5c2c" stroke="#3aa838"/>
<path d="M1210.5 1101.9L1211.6 1101.9" stroke="#3aa838" class="c"/>
<polygon points="1146.5,1104.1 1148.3,1103.8 1149.7,1104.1" fill="#3a4e64" stroke="#1e92d4"/>
<polygon points="1142.8,1112.3 1114.2,1108.2 1146.5,1104.1 1149.7,1104.1 1177.0,1109.2" fill="#2c5c2c" stroke="#3aa838"/>
<path d="M1146.5 1104.1L1149.7 1104.1" stroke="#3aa838" class="c"/>
<polygon points="1073.4,1102.5 1085.5,1101.6 1092.6,1103.4" fill="#3a4e64" stroke="#1e92d4"/>
<polygon points="1080.1,1108.2 1051.4,1102.9 1073.4,1102.5 1092.6,1103.4 1114.2,1108.2" fill="#2c5c2c" stroke="#3aa838"/>
<path d="M1073.4 1102.5L1092.6 1103.4" stroke="#3aa838" class="c"/>
<polygon points="991.8,1094.2 988.6,1093.4 1022.8,1095.1 1040.1,1100.1" fill="#3a4e64" stroke="#1e92d4"/>
<polygon points="1017.3,1099.8 991.8,1094.2 1040.1,1100.1 1051.4,1102.9" fill="#2c5c2c" stroke="#3aa838"/>
<path d="M991.8 1094.2L1040.1 1100.1" stroke="#3aa838" class="c"/>
<polygon points="1279.1,1096.3 1273.9,1095.5 1308.0,1080.5 1336.7,1085.0 1323.1,1091.0" fill="#3a4e64" stroke="#1e92d4"/>
<polygon points="1302.5,1098.7 1279.1,1096.3 1323.1,1091.0" fill="#2c5c2c" stroke="#3aa838"/>
<path d="M1279.1 1096.3L1323.1 1091.0" stroke="#3aa838" class="c"/>
<polygon points="948.0,1085.7 925.9,1079.6 960.0,1084.4 988.6,1093.4 979.1,1092.1" fill="#3a4e64" stroke="#1e92d4"/>
<polygon points="954.5,1087.2 948.0,1085.7 979.1,1092.1" fill="#2c5c2c" stroke="#3aa838"/>
<path d="M948.0 1085.7L979.1 1092.1" stroke="#3aa838" class="c"/>
<polygon points="1211.6,1101.9 1211.1,1101.8 1245.2,1089.9 1273.9,1095.5 1268.9,1097.3" fill="#3a4e64" stroke="#1e92d4"/>
<polygon points="1239.8,1106.1 1211.6,1101.9 1268.9,1097.3" fill="#2c5c2c" stroke="#3aa838"/>
<path d="M1211.6 1101.9L1268.9 1097.3" stroke="#3aa838" class="c"/>
<polygon points="1149.7,1104.1 1148.3,1103.8 1182.5,1094.9 1211.1,1101.8 1210.5,1101.9" fill="#3a4e64" stroke="#1e92d4"/>
<polygon points="1177.0,1109.2 1149.7,1104.1 1210.5,1101.9" fill="#2c5c2c" stroke="#3aa838"/>
<path d="M1149.7 1104.1L1210.5 1101.9" stroke="#3aa838" class="c"/>
<polygon points="1092.6,1103.4 1085.5,1101.6 1119.7,1095.8 1148.3,1103.8 1146.5,1104.1" fill="#3a4e64" stroke="#1e92d4"/>
<polygon points="1114.2,1108.2 1092.6,1103.4 1146.5,1104.1" fill="#2c5c2c" stroke="#3aa838"/>
<path d="M1092.6 1103.4L1146.5 1104.1" stroke="#3aa838" class="c"/>
<polygon points="891.8,1070.4 863.1,1061.6 897.2,1069.5 925.9,1079.6" fill="#3a4e64" stroke="#1e92d4"/>
<polygon points="1040.1,1100.1 1022.8,1095.1 1056.9,1092.4 1085.5,1101.6 1073.4,1102.5" fill="#3a4e64" stroke="#1e92d4"/>
<polygon points="1051.4,1102.9 1040.1,1100.1 1073.4,1102.5" fill="#2c5c2c" stroke="#3aa838"/>
<path d="M1040.1 1100.1L1073.4 1102.5" stroke="#3aa838" class="c"/>
<polygon points="988.6,1093.4 960.0,1084.4 994.1,1084.8 1022.8,1095.1" fill="#3a4e64" stroke="#1e92d4"/>
<polygon points="829.0,1049.3 800.3,1039.4 834.5,1050.4 863.1,1061.6" fill="#3a4e64" stroke="#1e92d4"/>
<polygon points="1273.9,1095.5 1245.2,1089.9 1279.3,1073.5 1308.0,1080.5" fill="#3a4e64" stroke="#1e92d4"/>
<polygon points="1211.1,1101.8 1182.5,1094.9 1216.6,1081.7 1245.2,1089.9" fill="#3a4e64" stroke="#1e92d4"/>
<polygon points="925.9,1079.6 897.2,1069.5 931.3,1073.0 960.0,1084.4" fill="#3a4e64" stroke="#1e92d4"/>
<polygon points="1148.3,1103.8 1119.7,1095.8 1153.8,1085.6 1182.5,1094.9" fill="#3a4e64" stroke="#1e92d4"/>
<polygon points="1085.5,1101.6 1056.9,1092.4 1091.0,1085.3 1119.7,1095.8" fill="#3a4e64" stroke="#1e92d4"/>
<polygon points="863.1,1061.6 834.5,1050.4 868.6,1056.9 897.2,1069.5" fill="#3a4e64" stroke="#1e92d4"/>
<polygon points="1022.8,1095.1 994.1,1084.8 1028.2,1080.8 1056.9,1092.4" fill="#3a4e64" stroke="#1e92d4"/>
<polygon points="960.0,1084.4 931.3,1073.0 965.5,1072.0 994.1,1084.8" fill="#3a4e64" stroke="#1e92d4"/>
<polygon points="800.3,1039.4 771.7,1027.0 805.8,1036.6 834.5,1050.4" fill="#3a4e64" stroke="#1e92d4"/>
<polygon points="1245.2,1089.9 1216.6,1081.7 1250.7,1064.0 1279.3,1073.5" fill="#3a4e64" stroke="#1e92d4"/>
<polygon points="1182.5,1094.9 1153.8,1085.6 1187.9,1071.1 1216.6,1081.7" fill="#3a4e64" stroke="#1e92d4"/>
<polygon points="897.2,1069.5 868.6,1056.9 902.7,1059.0 931.3,1073.0" fill="#3a4e64" stroke="#1e92d4"/>
<polygon points="1119.7,1095.8 1091.0,1085.3 1125.2,1073.8 1153.8,1085.6" fill="#3a4e64" stroke="#1e92d4"/>
<polygon points="716.2,1003.0 708.9,999.4 743.0,1012.1 751.4,1016.7" fill="#735834" stroke="#ffbe00"/>
<polygon points="737.5,1012.9 716.2,1003.0 751.4,1016.7 771.7,1027.0" fill="#3a4e64" stroke="#1e92d4"/>
<path d="M716.2 1003.0L751.4 1016.7" stroke="#1e92d4" class="c"/>
<polygon points="1056.9,1092.4 1028.2,1080.8 1062.4,1072.4 1091.0,1085.3" fill="#3a4e64" stroke="#1e92d4"/>
<polygon points="834.5,1050.4 805.8,1036.6 839.9,1041.8 868.6,1056.9" fill="#3a4e64" stroke="#1e92d4"/>
<polygon points="994.1,1084.8 965.5,1072.0 999.6,1066.7 1028.2,1080.8" fill="#3a4e64" stroke="#1e92d4"/>
<polygon points="931.3,1073.0 902.7,1059.0 936.8,1056.8 965.5,1072.0" fill="#3a4e64" stroke="#1e92d4"/>
<polygon points="674.8,982.2 646.1,967.5 680.2,983.3 708.9,999.4" fill="#735834" stroke="#ffbe00"/>
<polygon points="751.4,1016.7 743.0,1012.1 777.1,1020.4 790.3,1028.1" fill="#735834" stroke="#ffbe00"/>
<polygon points="771.7,1027.0 751.4,1016.7 790.3,1028.1 805.8,1036.6" fill="#3a4e64" stroke="#1e92d4"/>
<path d="M751.4 1016.7L790.3 1028.1" stroke="#1e92d4" class="c"/>
<polygon points="1216.6,1081.7 1187.9,1071.1 1222.0,1052.1 1250.7,1064.0" fill="#3a4e64" stroke="#1e92d4"/>
<polygon points="1153.8,1085.6 1125.2,1073.8 1159.3,1057.9 1187.9,1071.1" fill="#3a4e64" stroke="#1e92d4"/>
<polygon points="862.9,1042.8 874.0,1042.6 878.1,1045.1" fill="#735834" stroke="#ffbe00"/>
<polygon points="868.6,1056.9 839.9,1041.8 862.9,1042.8 878.1,1045.1 902.7,1059.0" fill="#3a4e64" stroke="#1e92d4"/>
<path d="M862.9 1042.8L878.1 1045.1" stroke="#1e92d4" class="c"/>
<polygon points="1091.0,1085.3 1062.4,1072.4 1096.5,1059.5 1125.2,1073.8" fill="#3a4e64" stroke="#1e92d4"/>
<polygon points="1028.2,1080.8 999.6,1066.7 1033.7,1056.9 1062.4,1072.4" fill="#3a4e64" stroke="#1e92d4"/>
<polygon points="708.9,999.4 680.2,983.3 714.4,994.7 743.0,1012.1" fill="#735834" stroke="#ffbe00"/>
<polygon points="790.3,1028.1 777.1,1020.4 811.3,1024.2 832.6,1037.6" fill="#735834" stroke="#ffbe00"/>
<polygon points="805.8,1036.6 790.3,1028.1 832.6,1037.6 839.9,1041.8" fill="#3a4e64" stroke="#1e92d4"/>
<path d="M790.3 1028.1L832.6 1037.6" stroke="#1e92d4" class="c"/>
<polygon points="957.2,1053.3 971.0,1050.1 978.4,1054.6" fill="#735834" stroke="#ffbe00"/>
<polygon points="965.5,1072.0 936.8,1056.8 957.2,1053.3 978.4,1054.6 999.6,1066.7" fill="#3a4e64" stroke="#1e92d4"/>
<path d="M957.2 1053.3L978.4 1054.6" stroke="#1e92d4" class="c"/>
<polygon points="878.1,1045.1 874.0,1042.6 908.2,1039.0 926.7,1050.8" fill="#735834" stroke="#ffbe00"/>
<polygon points="902.7,1059.0 878.1,1045.1 926.7,1050.8 936.8,1056.8" fill="#3a4e64" stroke="#1e92d4"/>
<path d="M878.1 1045.1L926.7 1050.8" stroke="#1e92d4" class="c"/>
<polygon points="743.0,1012.1 714.4,994.7 748.5,1001.6 777.1,1020.4" fill="#735834" stroke="#ffbe00"/>
<polygon points="1166.6,1053.9 1193.4,1037.6 1218.3,1050.3" fill="#735834" stroke="#ffbe00"/>
<polygon points="1187.9,1071.1 1159.3,1057.9 1166.6,1053.9 1218.3,1050.3 1222.0,1052.1" fill="#3a4e64" stroke="#1e92d4"/>
<path d="M1166.6 1053.9L1218.3 1050.3" stroke="#1e92d4" class="c"/>
<polygon points="1103.3,1056.4 1130.6,1042.3 1152.9,1054.6" fill="#735834" stroke="#ffbe00"/>
<polygon points="1125.2,1073.8 1096.5,1059.5 1103.3,1056.4 1152.9,1054.6 1159.3,1057.9" fill="#3a4e64" stroke="#1e92d4"/>
<path d="M1103.3 1056.4L1152.9 1054.6" stroke="#1e92d4" class="c"/>
<polygon points="1034.5,1056.6 1067.8,1042.7 1091.3,1056.7" fill="#735834" stroke="#ffbe00"/>
<polygon points="1062.4,1072.4 1033.7,1056.9 1034.5,1056.6 1091.3,1056.7 1096.5,1059.5" fill="#3a4e64" stroke="#1e92d4"/>
<path d="M1034.5 1056.6L1091.3 1056.7" stroke="#1e92d4" class="c"/>
<polygon points="832.6,1037.6 811.3,1024.2 845.4,1023.7 874.0,1042.6 862.9,1042.8" fill="#735834" stroke="#ffbe00"/>
<polygon points="839.9,1041.8 832.6,1037.6 862.9,1042.8" fill="#3a4e64" stroke="#1e92d4"/>
<path d="M832.6 1037.6L862.9 1042.8" stroke="#1e92d4" class="c"/>
<polygon points="978.4,1054.6 971.0,1050.1 1005.1,1039.0 1033.2,1056.6" fill="#735834" stroke="#ffbe00"/>
<polygon points="999.6,1066.7 978.4,1054.6 1033.2,1056.6 1033.7,1056.9" fill="#3a4e64" stroke="#1e92d4"/>
<path d="M978.4 1054.6L1033.2 1056.6" stroke="#1e92d4" class="c"/>
<polygon points="777.1,1020.4 748.5,1001.6 782.6,1004.1 811.3,1024.2" fill="#735834" stroke="#ffbe00"/>
<polygon points="926.7,1050.8 908.2,1039.0 942.3,1031.0 971.0,1050.1 957.2,1053.3" fill="#735834" stroke="#ffbe00"/>
<polygon points="936.8,1056.8 926.7,1050.8 957.2,1053.3" fill="#3a4e64" stroke="#1e92d4"/>
<path d="M926.7 1050.8L957.2 1053.3" stroke="#1e92d4" class="c"/>
<polygon points="874.0,1042.6 845.4,1023.7 879.5,1018.7 908.2,1039.0" fill="#735834" stroke="#ffbe00"/>
<polygon points="1152.9,1054.6 1130.6,1042.3 1164.8,1020.6 1193.4,1037.6 1166.6,1053.9" fill="#735834" stroke="#ffbe00"/>
<polygon points="1159.3,1057.9 1152.9,1054.6 1166.6,1053.9" fill="#3a4e64" stroke="#1e92d4"/>
<path d="M1152.9 1054.6L1166.6 1053.9" stroke="#1e92d4" class="c"/>
<polygon points="1091.3,1056.7 1067.8,1042.7 1102.0,1024.1 1130.6,1042.3 1103.3,1056.4" fill="#735834" stroke="#ffbe00"/>
<polygon points="1096.5,1059.5 1091.3,1056.7 1103.3,1056.4" fill="#3a4e64" stroke="#1e92d4"/>
<path d="M1091.3 1056.7L1103.3 1056.4" stroke="#1e92d4" class="c"/>
<polygon points="1033.2,1056.6 1005.1,1039.0 1039.2,1023.4 1067.8,1042.7 1034.5,1056.6" fill="#735834" stroke="#ffbe00"/>
<polygon points="1033.7,1056.9 1033.2,1056.6 1034.5,1056.6" fill="#3a4e64" stroke="#1e92d4"/>
<path d="M1033.2 1056.6L1034.5 1056.6" stroke="#1e92d4" class="c"/>
<polygon points="811.3,1024.2 782.6,1004.1 816.8,1002.3 845.4,1023.7" fill="#735834" stroke="#ffbe00"/>
<polygon points="971.0,1050.1 942.3,1031.0 976.4,1018.5 1005.1,1039.0" fill="#735834" stroke="#ffbe00"/>
<polygon points="908.2,1039.0 879.5,1018.7 913.6,1009.4 942.3,1031.0" fill="#735834" stroke="#ffbe00"/>
<polygon points="845.4,1023.7 816.8,1002.3 850.9,996.0 879.5,1018.7" fill="#735834" stroke="#ffbe00"/>
<polygon points="1130.6,1042.3 1102.0,1024.1 1136.1,1001.1 1164.8,1020.6" fill="#735834" stroke="#ffbe00"/>
<polygon points="1067.8,1042.7 1039.2,1023.4 1073.3,1003.5 1102.0,1024.1" fill="#735834" stroke="#ffbe00"/>
<polygon points="1005.1,1039.0 976.4,1018.5 1010.5,1001.7 1039.2,1023.4" fill="#735834" stroke="#ffbe00"/>
<polygon points="942.3,1031.0 913.6,1009.4 947.8,995.6 976.4,1018.5" fill="#735834" stroke="#ffbe00"/>
<polygon points="874.5,989.0 885.0,985.3 890.5,990.1" fill="#3e463e" stroke="#24621e"/>
<polygon points="879.5,1018.7 850.9,996.0 874.5,989.0 890.5,990.1 913.6,1009.4" fill="#735834" stroke="#ffbe00"/>
<path d="M874.5 989.0L890.5 990.1" stroke="#ffbe00" class="c"/>
<polygon points="1090.0,992.1 1107.5,979.2 1122.1,990.7" fill="#3e463e" stroke="#24621e"/>
<polygon points="1102.0,1024.1 1073.3,1003.5 1090.0,992.1 1122.1,990.7 1136.1,1001.1" fill="#735834" stroke="#ffbe00"/>
<path d="M1090.0 992.1L1122.1 990.7" stroke="#ffbe00" class="c"/>
<polygon points="1024.3,993.6 1044.7,980.4 1060.0,993.1" fill="#3e463e" stroke="#24621e"/>
<polygon points="1039.2,1023.4 1010.5,1001.7 1024.3,993.6 1060.0,993.1 1073.3,1003.5" fill="#735834" stroke="#ffbe00"/>
<path d="M1024.3 993.6L1060.0 993.1" stroke="#ffbe00" class="c"/>
<polygon points="953.3,993.0 981.9,977.4 1000.8,993.7" fill="#3e463e" stroke="#24621e"/>
<polygon points="976.4,1018.5 947.8,995.6 953.3,993.0 1000.8,993.7 1010.5,1001.7" fill="#735834" stroke="#ffbe00"/>
<path d="M953.3 993.0L1000.8 993.7" stroke="#ffbe00" class="c"/>
<polygon points="890.5,990.1 885.0,985.3 919.1,970.1 944.4,992.7" fill="#3e463e" stroke="#24621e"/>
<polygon points="913.6,1009.4 890.5,990.1 944.4,992.7 947.8,995.6" fill="#735834" stroke="#ffbe00"/>
<path d="M890.5 990.1L944.4 992.7" stroke="#ffbe00" class="c"/>
<polygon points="1060.0,993.1 1044.7,980.4 1078.8,954.7 1107.5,979.2 1090.0,992.1" fill="#3e463e" stroke="#24621e"/>
<polygon points="1073.3,1003.5 1060.0,993.1 1090.0,992.1" fill="#735834" stroke="#ffbe00"/>
<path d="M1060.0 993.1L1090.0 992.1" stroke="#ffbe00" class="c"/>
<polygon points="1000.8,993.7 981.9,977.4 1016.0,954.8 1044.7,980.4 1024.3,993.6" fill="#3e463e" stroke="#24621e"/>
<polygon points="1010.5,1001.7 1000.8,993.7 1024.3,993.6" fill="#735834" stroke="#ffbe00"/>
<path d="M1000.8 993.7L1024.3 993.6" stroke="#ffbe00" class="c"/>
<polygon points="944.4,992.7 919.1,970.1 953.2,950.6 981.9,977.4 953.3,993.0" fill="#3e463e" stroke="#24621e"/>
<polygon points="947.8,995.6 944.4,992.7 953.3,993.0" fill="#735834" stroke="#ffbe00"/>
<path d="M944.4 992.7L953.3 993.0" stroke="#ffbe00" class="c"/>
<polygon points="1044.7,980.4 1016.0,954.8 1050.2,927.7 1078.8,954.7" fill="#3e463e" stroke="#24621e"/>
<polygon points="981.9,977.4 953.2,950.6 987.4,926.7 1016.0,954.8" fill="#3e463e" stroke="#24621e"/>
<polygon points="993.4,922.0 1021.5,898.3 1043.2,920.9" fill="#373e56" stroke="#065a96"/>
<polygon points="1016.0,954.8 987.4,926.7 993.4,922.0 1043.2,920.9 1050.2,927.7" fill="#3e463e" stroke="#24621e"/>
<path d="M993.4 922.0L1043.2 920.9" stroke="#24621e" class="c"/></g>
<g id="labels"><text x="153" y="139" font-family="Liberation Serif, serif" font-size="60" text-anchor="middle">C</text>
<rect x="74" y="189.0" width="35" height="35" rx="1.8" fill="#40aa36"/>
<rect x="81.5" y="196.5" width="20" height="20" fill="url(#lg0)"/>
<text x="114.6" y="221.3" font-family="Liberation Sans, sans-serif" font-weight="bold" font-size="46.5" textLength="196.4" lengthAdjust="spacingAndGlyphs">0.75-0.80</text>
<rect x="74" y="269.0" width="35" height="35" rx="1.8" fill="#1e96d4"/>
<rect x="81.5" y="276.5" width="20" height="20" fill="url(#lg1)"/>
<text x="114.6" y="301.3" font-family="Liberation Sans, sans-serif" font-weight="bold" font-size="46.5" textLength="196.4" lengthAdjust="spacingAndGlyphs">0.80-0.85</text>
<rect x="74" y="349.0" width="35" height="35" rx="1.8" fill="#ffc000"/>
<rect x="81.5" y="356.5" width="20" height="20" fill="url(#lg2)"/>
<text x="114.6" y="381.3" font-family="Liberation Sans, sans-serif" font-weight="bold" font-size="46.5" textLength="196.4" lengthAdjust="spacingAndGlyphs">0.85-0.90</text>
<rect x="74" y="429.0" width="35" height="35" rx="1.8" fill="#26621e"/>
<rect x="81.5" y="436.5" width="20" height="20" fill="url(#lg3)"/>
<text x="114.6" y="461.3" font-family="Liberation Sans, sans-serif" font-weight="bold" font-size="46.5" textLength="196.4" lengthAdjust="spacingAndGlyphs">0.90-0.95</text>
<rect x="74" y="509.0" width="35" height="35" rx="1.8" fill="#055892"/>
<rect x="81.5" y="516.5" width="20" height="20" fill="url(#lg4)"/>
<text x="114.6" y="541.3" font-family="Liberation Sans, sans-serif" font-weight="bold" font-size="46.5" textLength="196.4" lengthAdjust="spacingAndGlyphs">0.95-1.00</text>
<text x="1641.6" y="1076.6" font-family="Liberation Sans, sans-serif" font-weight="bold" font-size="46.5" textLength="91.4" lengthAdjust="spacingAndGlyphs">0.75</text>
<text x="1641.6" y="960.2" font-family="Liberation Sans, sans-serif" font-weight="bold" font-size="46.5" textLength="91.4" lengthAdjust="spacingAndGlyphs">0.80</text>
<text x="1641.6" y="843.9" font-family="Liberation Sans, sans-serif" font-weight="bold" font-size="46.5" textLength="91.4" lengthAdjust="spacingAndGlyphs">0.85</text>
<text x="1641.6" y="727.6" font-family="Liberation Sans, sans-serif" font-weight="bold" font-size="46.5" textLength="91.4" lengthAdjust="spacingAndGlyphs">0.90</text>
<text x="1641.6" y="611.2" font-family="Liberation Sans, sans-serif" font-weight="bold" font-size="46.5" textLength="91.4" lengthAdjust="spacingAndGlyphs">0.95</text>
<text x="1642.6" y="494.9" font-family="Liberation Sans, sans-serif" font-weight="bold" font-size="46.5" textLength="90.4" lengthAdjust="spacingAndGlyphs">1.00</text>
<text x="376.8" y="1236.6" font-family="Liberation Sans, sans-serif" font-weight="bold" font-size="46.5" textLength="65.5" lengthAdjust="spacingAndGlyphs">0.8</text>
<text x="479.1" y="1280.2" font-family="Liberation Sans, sans-serif" font-weight="bold" font-size="46.5" textLength="65.5" lengthAdjust="spacingAndGlyphs">0.5</text>
<text x="581.4" y="1323.8" font-family="Liberation Sans, sans-serif" font-weight="bold" font-size="46.5" textLength="65.5" lengthAdjust="spacingAndGlyphs">0.2</text>
<text x="676.9" y="1367.4" font-family="Liberation Sans, sans-serif" font-weight="bold" font-size="46.5" textLength="79.6" lengthAdjust="spacingAndGlyphs">-0.1</text>
<text x="779.2" y="1411.0" font-family="Liberation Sans, sans-serif" font-weight="bold" font-size="46.5" textLength="79.6" lengthAdjust="spacingAndGlyphs">-0.4</text>
<text x="881.5" y="1454.6" font-family="Liberation Sans, sans-serif" font-weight="bold" font-size="46.5" textLength="79.6" lengthAdjust="spacingAndGlyphs">-0.7</text>
<text x="983.8" y="1498.2" font-family="Liberation Sans, sans-serif" font-weight="bold" font-size="46.5" textLength="79.6" lengthAdjust="spacingAndGlyphs">-1.0</text>
<text x="1576.5" y="1143.2" font-family="Liberation Sans, sans-serif" font-weight="bold" font-size="42.0" textLength="37.5" lengthAdjust="spacingAndGlyphs">-1</text>
<text x="1473.4" y="1205.0" font-family="Liberation Sans, sans-serif" font-weight="bold" font-size="42.0" textLength="72.4" lengthAdjust="spacingAndGlyphs">-0.7</text>
<text x="1387.2" y="1256.0" font-family="Liberation Sans, sans-serif" font-weight="bold" font-size="42.0" textLength="74.4" lengthAdjust="spacingAndGlyphs">-0.4</text>
<text x="1301.1" y="1307.0" font-family="Liberation Sans, sans-serif" font-weight="bold" font-size="42.0" textLength="73.7" lengthAdjust="spacingAndGlyphs">-0.1</text>
<text x="1223.0" y="1354.4" font-family="Liberation Sans, sans-serif" font-weight="bold" font-size="42.0" textLength="58.7" lengthAdjust="spacingAndGlyphs">0.2</text>
<text x="1136.9" y="1405.0" font-family="Liberation Sans, sans-serif" font-weight="bold" font-size="42.0" textLength="59.0" lengthAdjust="spacingAndGlyphs">0.5</text>
<text x="1050.7" y="1456.0" font-family="Liberation Sans, sans-serif" font-weight="bold" font-size="42.0" textLength="59.7" lengthAdjust="spacingAndGlyphs">0.8</text>
<text x="388.4" y="1464.5" font-family="Liberation Serif, serif" font-weight="bold" font-size="59" text-anchor="middle">Synthesis</text>
<text x="388.7" y="1531" font-family="Liberation Serif, serif" font-weight="bold" font-size="59" text-anchor="middle">temperature (X<tspan font-size="38" dy="14">4</tspan><tspan dy="-14">)</tspan></text>
<text x="1533.4" y="1380" font-family="Liberation Serif, serif" font-weight="bold" font-size="59" text-anchor="middle">Synthesis</text>
<text x="1533.4" y="1446" font-family="Liberation Serif, serif" font-weight="bold" font-size="59" text-anchor="middle">time (X<tspan font-size="38" dy="14">3</tspan><tspan dy="-14">)</tspan></text>
<text transform="translate(1823,818.5) rotate(-90)" font-family="Liberation Serif, serif" font-weight="bold" font-size="59" text-anchor="middle">Absorbance (AU)</text></g>
</svg></body></html>
